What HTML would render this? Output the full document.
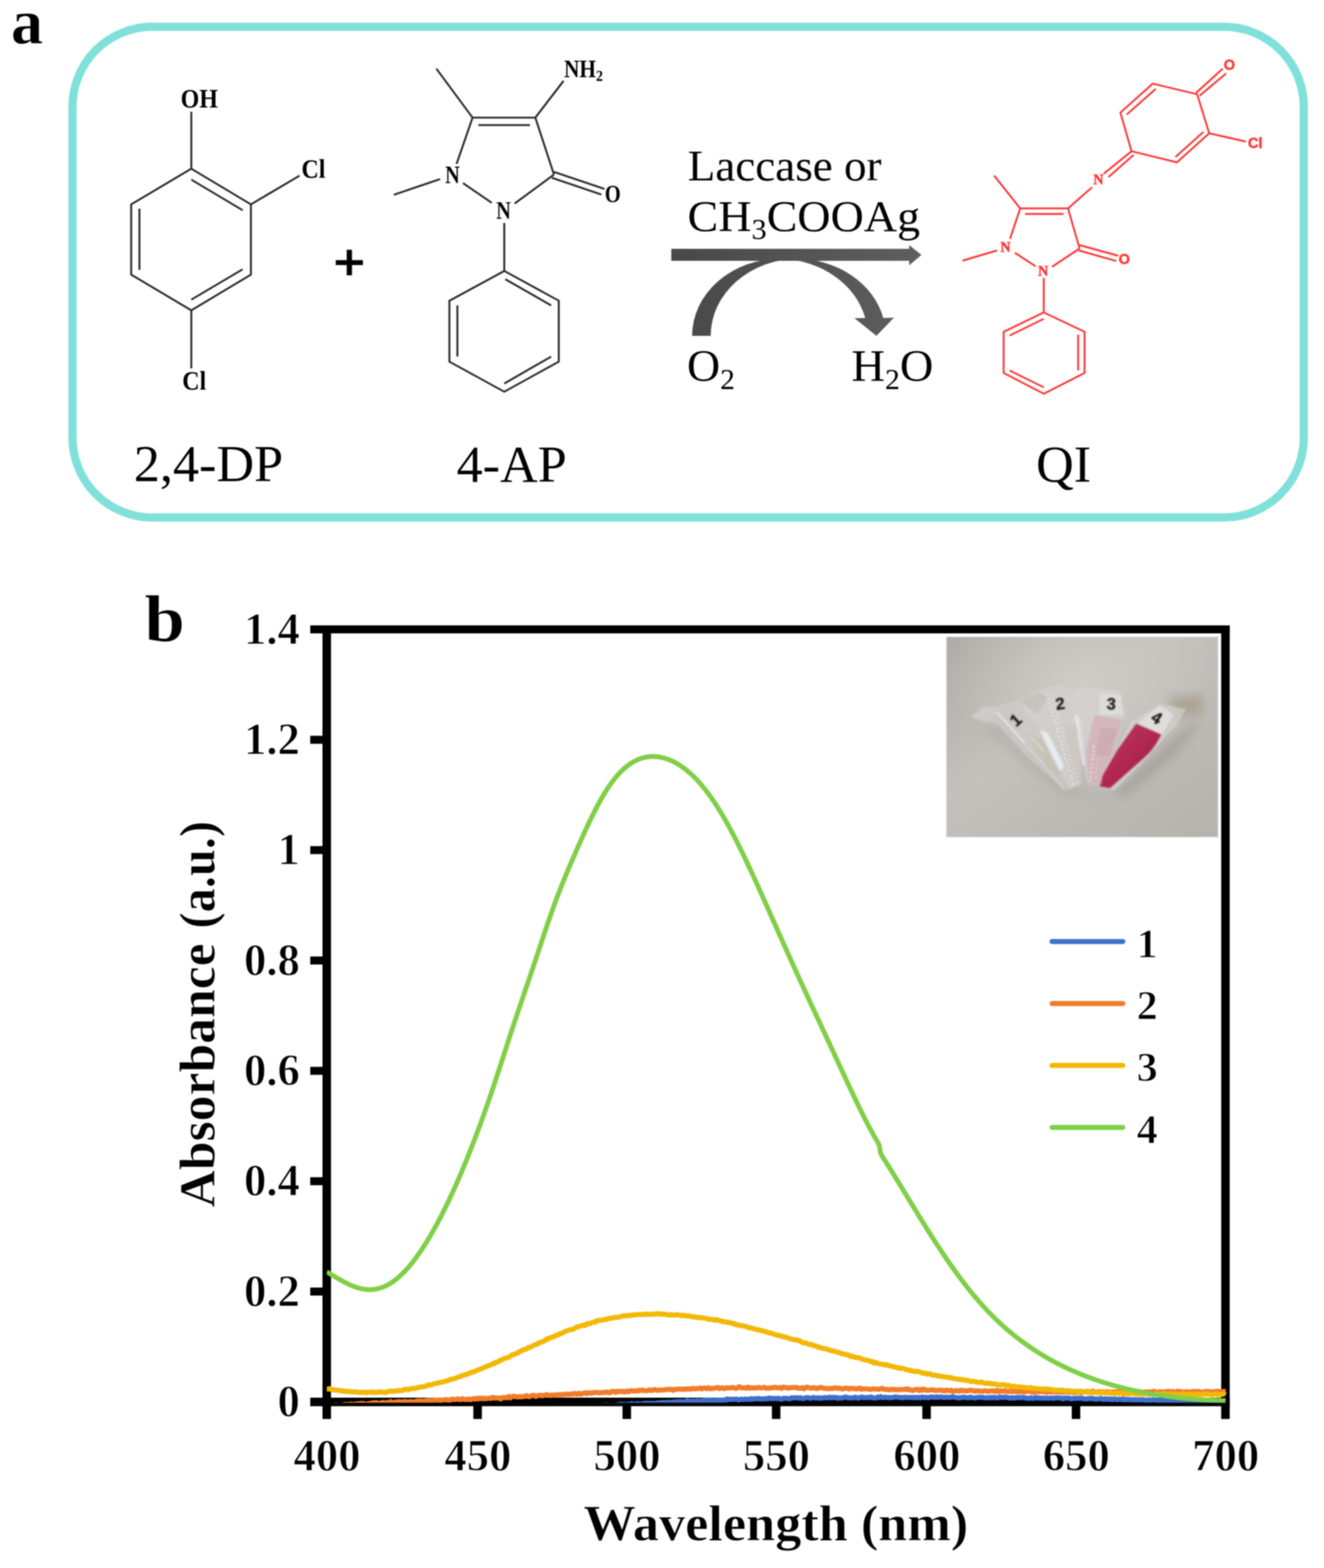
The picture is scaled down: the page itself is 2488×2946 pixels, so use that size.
<!DOCTYPE html>
<html lang="en">
<head>
<meta charset="utf-8">
<title>Figure: 2,4-DP + 4-AP reaction and absorbance spectra</title>
<style>
html,body{margin:0;padding:0;background:#fff;}
body{width:2488px;height:2946px;overflow:hidden;}
svg{display:block;}
.b{stroke:#2c2c2c;stroke-width:3.7;fill:none;stroke-linecap:butt;stroke-linejoin:miter;}
.r{stroke:#FF3636;stroke-width:3.5;fill:none;stroke-linecap:butt;stroke-linejoin:miter;}
text{white-space:pre;}
</style>
</head>
<body>
<svg width="2488" height="2946" viewBox="0 0 2488 2946">
<defs><filter id="soft" color-interpolation-filters="sRGB" x="0" y="0" width="100%" height="100%" filterUnits="userSpaceOnUse" primitiveUnits="userSpaceOnUse"><feGaussianBlur stdDeviation="0.85"/></filter></defs>
<rect width="2488" height="2946" fill="#ffffff"/>
<g filter="url(#soft)">
<rect width="2488" height="2946" fill="#ffffff"/>
<g id="panel-a">
<rect x="136.2" y="50.3" width="2313.8" height="922.0" rx="150" ry="150" fill="none" stroke="#7FE1D9" stroke-width="15.5"/>
<text x="20.5" y="81.5" font-family="'Liberation Serif','DejaVu Serif',serif" font-size="121" font-weight="bold" fill="#000" text-anchor="start" stroke="#fff" stroke-width="1.0">a</text>
<g class="mk">
<polygon points="359.5,317 471.5,384 471.5,516 359.5,583 246.5,516 246.5,384" class="b"/>
<line x1="359.5" y1="337.5" x2="456.0" y2="395.0" class="b"/>
<line x1="262.0" y1="392.0" x2="262.0" y2="507.0" class="b"/>
<line x1="359.5" y1="563.0" x2="456.0" y2="506.0" class="b"/>
<line x1="359.5" y1="317.0" x2="359.5" y2="210.0" class="b"/>
<line x1="471.5" y1="384.0" x2="563.0" y2="330.0" class="b"/>
<line x1="359.5" y1="583.0" x2="359.5" y2="692.0" class="b"/>
</g>
<text x="339.5" y="201.5" font-family="'Liberation Serif','DejaVu Serif',serif" font-size="50" font-weight="bold" fill="#000" text-anchor="start" textLength="70" lengthAdjust="spacingAndGlyphs">OH</text>
<text x="566.5" y="334.0" font-family="'Liberation Serif','DejaVu Serif',serif" font-size="50" font-weight="bold" fill="#000" text-anchor="start" textLength="45" lengthAdjust="spacingAndGlyphs">Cl</text>
<text x="342.5" y="731.5" font-family="'Liberation Serif','DejaVu Serif',serif" font-size="50" font-weight="bold" fill="#000" text-anchor="start" textLength="45" lengthAdjust="spacingAndGlyphs">Cl</text>
<text x="251.5" y="904.0" font-family="'Liberation Serif','DejaVu Serif',serif" font-size="98" font-weight="normal" fill="#000" text-anchor="start" >2,4-DP</text>
<text x="656.5" y="524.2" font-family="'Liberation Sans','DejaVu Sans',sans-serif" font-size="92" font-weight="normal" fill="#000" text-anchor="middle" stroke="#000" stroke-width="2.6" textLength="58" lengthAdjust="spacingAndGlyphs">+</text>
<g class="mk">
<line x1="820.0" y1="129.0" x2="888.0" y2="221.0" class="b"/>
<line x1="888.0" y1="221.0" x2="1006.0" y2="221.0" class="b"/>
<line x1="899.0" y1="235.0" x2="996.0" y2="235.0" class="b"/>
<line x1="1006.0" y1="221.0" x2="1059.0" y2="152.0" class="b"/>
<line x1="888.0" y1="221.0" x2="858.0" y2="308.0" class="b"/>
<line x1="827.0" y1="336.5" x2="740.0" y2="366.0" class="b"/>
<line x1="870.0" y1="344.0" x2="924.0" y2="381.0" class="b"/>
<line x1="967.0" y1="382.5" x2="1041.0" y2="328.0" class="b"/>
<line x1="1006.0" y1="221.0" x2="1041.0" y2="328.0" class="b"/>
<line x1="1041.0" y1="323.0" x2="1136.0" y2="355.0" class="b"/>
<line x1="1037.0" y1="334.0" x2="1130.0" y2="365.5" class="b"/>
<line x1="947.6" y1="419.0" x2="947.6" y2="509.0" class="b"/>
<polygon points="947.6,509 1050,565 1050,679.5 947.6,736 844.5,679.5 844.5,565" class="b"/>
<line x1="949.6" y1="524.6" x2="1035.7" y2="573.8" class="b"/>
<line x1="859.5" y1="573.8" x2="859.5" y2="670.0" class="b"/>
<line x1="947.6" y1="720.6" x2="1035.7" y2="670.0" class="b"/>
</g>
<text x="1060.0" y="145.0" font-family="'Liberation Serif','DejaVu Serif',serif" font-size="46" font-weight="bold" fill="#000" text-anchor="start" textLength="73" lengthAdjust="spacingAndGlyphs">NH<tspan dy="7" font-size="30">2</tspan></text>
<text x="836.5" y="343.5" font-family="'Liberation Serif','DejaVu Serif',serif" font-size="45.5" font-weight="bold" fill="#000" text-anchor="start" textLength="27.5" lengthAdjust="spacingAndGlyphs">N</text>
<text x="932.5" y="411.0" font-family="'Liberation Serif','DejaVu Serif',serif" font-size="45.5" font-weight="bold" fill="#000" text-anchor="start" textLength="27.5" lengthAdjust="spacingAndGlyphs">N</text>
<text x="1136.5" y="379.5" font-family="'Liberation Serif','DejaVu Serif',serif" font-size="45.5" font-weight="bold" fill="#000" text-anchor="start" textLength="30" lengthAdjust="spacingAndGlyphs">O</text>
<text x="858.0" y="904.5" font-family="'Liberation Serif','DejaVu Serif',serif" font-size="98" font-weight="normal" fill="#000" text-anchor="start" >4-AP</text>
<defs><linearGradient id="ag" x1="1260" y1="0" x2="1735" y2="0" gradientUnits="userSpaceOnUse"><stop offset="0" stop-color="#484848"/><stop offset="1" stop-color="#5f5f5f"/></linearGradient></defs>
<path d="M1300.6,631.0 A166,145 0 0 1 1466.6,486.0 L1501.5,486.0 A166,145 0 0 0 1335.5,631.0 Z" fill="url(#ag)"/>
<path d="M1460.5,486.0 L1494.5,486.0 A170,145 0 0 1 1659.9,597.5 L1680,596.8 L1647,631 L1605.5,597.7 L1625.9,597.5 A170,145 0 0 0 1460.5,486.0 Z" fill="url(#ag)"/>
<path d="M1261.5,467.5 H1708.5 V460.5 L1731.5,479 L1708.5,498.5 V490 H1261.5 Z" fill="url(#ag)"/>
<text x="1292.5" y="339.0" font-family="'Liberation Serif','DejaVu Serif',serif" font-size="82" font-weight="normal" fill="#000" text-anchor="start" textLength="364" lengthAdjust="spacingAndGlyphs">Laccase or</text>
<text x="1292.0" y="434.0" font-family="'Liberation Serif','DejaVu Serif',serif" font-size="82" font-weight="normal" fill="#000" text-anchor="start" textLength="437" lengthAdjust="spacingAndGlyphs">CH<tspan dy="15" font-size="54">3</tspan><tspan dy="-15">COOAg</tspan></text>
<text x="1291.0" y="716.0" font-family="'Liberation Serif','DejaVu Serif',serif" font-size="84" font-weight="normal" fill="#000" text-anchor="start" textLength="90" lengthAdjust="spacingAndGlyphs">O<tspan dy="15" font-size="54">2</tspan></text>
<text x="1600.0" y="716.0" font-family="'Liberation Serif','DejaVu Serif',serif" font-size="84" font-weight="normal" fill="#000" text-anchor="start" textLength="154" lengthAdjust="spacingAndGlyphs">H<tspan dy="15" font-size="54">2</tspan><tspan dy="-15">O</tspan></text>
<g class="mr">
<polygon points="2166.2,157.1 2249.6,177.1 2272.3,250.5 2211.5,305 2126.3,284.1 2105.4,211.5" class="r"/>
<line x1="2117.2" y1="215.2" x2="2171.6" y2="167.1" class="r"/>
<line x1="2261.4" y1="247.8" x2="2208.8" y2="295.0" class="r"/>
<line x1="2247.8" y1="174.4" x2="2297.7" y2="129.0" class="r"/>
<line x1="2254.1" y1="179.8" x2="2304.0" y2="138.0" class="r"/>
<line x1="2272.3" y1="250.5" x2="2341.2" y2="266.0" class="r"/>
<line x1="2126.3" y1="284.1" x2="2074.0" y2="326.3" class="r"/>
<line x1="2130.3" y1="291.0" x2="2083.0" y2="332.6" class="r"/>
<line x1="1868.1" y1="329.9" x2="1917.1" y2="391.6" class="r"/>
<line x1="1917.1" y1="391.6" x2="2006.9" y2="391.6" class="r"/>
<line x1="1926.2" y1="401.9" x2="1998.7" y2="401.9" class="r"/>
<line x1="1917.1" y1="391.6" x2="1898.0" y2="448.7" class="r"/>
<line x1="1873.6" y1="470.5" x2="1808.6" y2="489.7" class="r"/>
<line x1="1907.1" y1="475.0" x2="1946.1" y2="500.4" class="r"/>
<line x1="1977.0" y1="501.3" x2="2028.7" y2="466.8" class="r"/>
<line x1="2006.9" y1="391.6" x2="2028.7" y2="466.8" class="r"/>
<line x1="2028.7" y1="460.5" x2="2101.2" y2="480.5" class="r"/>
<line x1="2026.9" y1="470.5" x2="2097.6" y2="490.4" class="r"/>
<line x1="2006.9" y1="391.6" x2="2052.2" y2="351.7" class="r"/>
<line x1="1961.4" y1="522.0" x2="1961.4" y2="587.0" class="r"/>
<polygon points="1961.4,587 2038,623.4 2038,700.8 1961.4,739.7 1886,700.8 1886,623.4" class="r"/>
<line x1="1897.0" y1="630.5" x2="1961.4" y2="599.0" class="r"/>
<line x1="2026.0" y1="628.6" x2="2026.0" y2="696.0" class="r"/>
<line x1="1897.0" y1="696.0" x2="1961.4" y2="727.8" class="r"/>
</g>
<text x="1880.0" y="473.0" font-family="'Liberation Serif','DejaVu Serif',serif" font-size="26.5" font-weight="bold" fill="#FF3A3A" text-anchor="start" stroke="#FF3A3A" stroke-width="0.9">N</text>
<text x="1950.7" y="517.5" font-family="'Liberation Serif','DejaVu Serif',serif" font-size="26.5" font-weight="bold" fill="#FF3A3A" text-anchor="start" stroke="#FF3A3A" stroke-width="0.9">N</text>
<text x="2054.5" y="346.0" font-family="'Liberation Serif','DejaVu Serif',serif" font-size="26.5" font-weight="bold" fill="#FF3A3A" text-anchor="start" stroke="#FF3A3A" stroke-width="0.9">N</text>
<text x="2102.0" y="496.0" font-family="'Liberation Sans','DejaVu Sans',sans-serif" font-size="27.5" font-weight="bold" fill="#FF3A3A" text-anchor="start" stroke="#FF3A3A" stroke-width="0.9">O</text>
<text x="2299.5" y="131.0" font-family="'Liberation Sans','DejaVu Sans',sans-serif" font-size="27.5" font-weight="bold" fill="#FF3A3A" text-anchor="start" stroke="#FF3A3A" stroke-width="0.9">O</text>
<text x="2345.0" y="278.0" font-family="'Liberation Sans','DejaVu Sans',sans-serif" font-size="27.5" font-weight="bold" fill="#FF3A3A" text-anchor="start" stroke="#FF3A3A" stroke-width="0.9">Cl</text>
<text x="1947.0" y="904.5" font-family="'Liberation Serif','DejaVu Serif',serif" font-size="98" font-weight="normal" fill="#000" text-anchor="start" >QI</text>
</g>
<g id="panel-b">
<text x="271.5" y="1204.5" font-family="'Liberation Serif','DejaVu Serif',serif" font-size="124" font-weight="bold" fill="#000" text-anchor="start" textLength="76" lengthAdjust="spacingAndGlyphs" stroke="#fff" stroke-width="1.0">b</text>
<defs>
<clipPath id="phc"><rect x="1779" y="1197" width="509.5999999999999" height="375.29999999999995"/></clipPath>
<filter id="b1" color-interpolation-filters="sRGB" x="-20%" y="-20%" width="140%" height="140%"><feGaussianBlur stdDeviation="1.7"/></filter>
<filter id="b2" color-interpolation-filters="sRGB" x="-30%" y="-30%" width="160%" height="160%"><feGaussianBlur stdDeviation="9"/></filter>
<filter id="b3" color-interpolation-filters="sRGB" x="-20%" y="-20%" width="140%" height="140%"><feGaussianBlur stdDeviation="0.9"/></filter>
<filter id="b4" color-interpolation-filters="sRGB" x="-20%" y="-20%" width="140%" height="140%"><feGaussianBlur stdDeviation="1.2"/></filter>
<linearGradient id="pbg" x1="0" y1="0" x2="1" y2="1"><stop offset="0" stop-color="#afaba6"/><stop offset="0.4" stop-color="#c4c1bd"/><stop offset="1" stop-color="#b6b3ae"/></linearGradient>
<radialGradient id="pbg2" cx="0.5" cy="0.22" r="0.5"><stop offset="0" stop-color="#d4d1cd" stop-opacity="0.75"/><stop offset="1" stop-color="#d4d1cd" stop-opacity="0"/></radialGradient>
<linearGradient id="crim" x1="0" y1="0" x2="1" y2="1"><stop offset="0" stop-color="#c23a66"/><stop offset="0.55" stop-color="#ae2550"/><stop offset="1" stop-color="#8d1d3e"/></linearGradient>
</defs>
<g id="inset-photo" clip-path="url(#phc)">
<rect x="1779" y="1197" width="509.5999999999999" height="375.29999999999995" fill="url(#pbg)"/>
<rect x="1779" y="1197" width="509.5999999999999" height="375.29999999999995" fill="url(#pbg2)"/>
<g filter="url(#b2)">
<polygon points="2089.4,1492.0 2189.2,1399.7 2229.1,1364.8 2260.0,1354.8 2209.1,1419.6 2114.3,1499.5" fill="#9a958d" fill-opacity="0.55" />
<polygon points="1835.0,1364.8 1994.6,1494.5 2069.4,1499.5 2019.6,1479.5 1884.9,1364.8" fill="#aaa7a2" fill-opacity="0.45" />
<polygon points="2194.2,1309.9 2260.0,1304.9 2260.0,1342.3 2209.1,1349.8" fill="#9f927d" fill-opacity="0.6" />
</g>
<g filter="url(#b1)">
<polygon points="1825.0,1347.3 1844.9,1329.8 1872.4,1327.3 1914.8,1313.6 1954.7,1342.3 2019.6,1479.5 2002.1,1485.7 1927.3,1419.6 1873.6,1359.8 1849.9,1356.0" fill="#d0cecb" fill-opacity="0.6" />
<polygon points="1825.0,1347.3 1844.9,1329.8 1871.1,1327.8 1873.6,1338.6 1849.9,1356.0" fill="#cfcdca" fill-opacity="0.8" />
<polygon points="1927.3,1377.2 1959.7,1389.7 1994.6,1459.6 1969.7,1444.6" fill="#c6bba9" fill-opacity="0.55" />
<polyline points="1873.6,1338.6 1899.8,1367.3 1924.8,1395.9" fill="none" stroke="#f3efe6" stroke-width="2.6" stroke-opacity="0.95" stroke-linecap="round" stroke-linejoin="round" />
<polyline points="1927.3,1399.7 1959.7,1434.6 1999.6,1482.0" fill="none" stroke="#e2dfda" stroke-width="2.2" stroke-opacity="0.7" stroke-linecap="round" stroke-linejoin="round" />
<polyline points="1937.2,1384.7 1959.7,1409.7" fill="none" stroke="#efe9dc" stroke-width="3" stroke-opacity="0.6" stroke-linecap="round" stroke-linejoin="round" />
<polygon points="1912.3,1316.1 1949.7,1297.4 1992.1,1284.9 2024.5,1302.4 2032.0,1474.5 2009.6,1482.0 1959.7,1377.2" fill="#d4d2cf" fill-opacity="0.65" />
<polygon points="1914.8,1317.4 1949.7,1299.9 1969.7,1307.4 1949.7,1342.3" fill="#bdb9b4" fill-opacity="0.5" />
<polygon points="1953.4,1372.2 1969.7,1377.2 1999.6,1439.6 1992.1,1449.6" fill="#e9edf3" fill-opacity="0.9" />
<polygon points="2019.6,1342.3 2032.0,1349.8 2039.5,1434.6 2034.5,1439.6" fill="#eceef1" fill-opacity="0.85" />
<polygon points="1999.6,1359.8 2024.5,1364.8 2032.0,1464.5 2019.6,1472.0" fill="#cbc4bb" fill-opacity="0.5" />
<polygon points="2019.6,1291.2 2101.9,1297.4 2114.3,1342.3 2071.9,1474.5 2044.5,1474.5 2032.0,1409.7" fill="#d6d3d1" fill-opacity="0.7" />
<polygon points="2066.9,1302.4 2106.9,1304.9 2110.6,1343.6 2065.7,1342.3" fill="#e2e0de" fill-opacity="0.75" />
<polygon points="2057.0,1343.6 2109.3,1352.3 2071.9,1473.3 2045.7,1473.3 2040.8,1409.7" fill="#d3b3bc" fill-opacity="0.9" />
<polygon points="2069.4,1367.3 2099.4,1369.8 2084.4,1419.6 2059.5,1419.6" fill="#caa3af" fill-opacity="0.6" />
<polygon points="2126.8,1354.8 2179.2,1322.4 2229.1,1332.3 2209.1,1364.8 2094.4,1484.5 2066.9,1479.5 2069.4,1459.6" fill="#d4d1ce" fill-opacity="0.7" />
<polygon points="2138.0,1358.5 2179.2,1325.4 2205.4,1342.3 2182.9,1381.0" fill="#e4e2e0" fill-opacity="0.8" />
<polygon points="2134.8,1359.8 2182.2,1380.2 2165.5,1409.7 2085.7,1480.8 2066.9,1477.5 2071.9,1457.1 2099.4,1409.7" fill="url(#crim)" fill-opacity="1" />
<polyline points="2189.2,1379.7 2144.3,1434.6 2091.9,1484.5" fill="none" stroke="#d8cfcc" stroke-width="3" stroke-opacity="0.7" stroke-linecap="round" stroke-linejoin="round" />
</g>
<g filter="url(#b3)">
<circle cx="1966.8" cy="1304.5" r="1.5" fill="#ffffff" fill-opacity="0.95"/><circle cx="1969.3" cy="1312.5" r="1.5" fill="#ffffff" fill-opacity="0.95"/><circle cx="1972.9" cy="1321.1" r="1.5" fill="#ffffff" fill-opacity="0.95"/><circle cx="1974.0" cy="1329.5" r="1.5" fill="#ffffff" fill-opacity="0.95"/><circle cx="1976.2" cy="1337.2" r="1.5" fill="#ffffff" fill-opacity="0.95"/><circle cx="1978.1" cy="1344.6" r="1.5" fill="#ffffff" fill-opacity="0.95"/><circle cx="1982.1" cy="1352.9" r="1.5" fill="#ffffff" fill-opacity="0.95"/><circle cx="1984.4" cy="1360.3" r="1.5" fill="#ffffff" fill-opacity="0.95"/><circle cx="1986.1" cy="1369.4" r="1.5" fill="#ffffff" fill-opacity="0.95"/><circle cx="1988.7" cy="1376.1" r="1.5" fill="#ffffff" fill-opacity="0.95"/><circle cx="1990.6" cy="1385.1" r="1.5" fill="#ffffff" fill-opacity="0.95"/><circle cx="1994.2" cy="1392.9" r="1.5" fill="#ffffff" fill-opacity="0.95"/><circle cx="1996.6" cy="1400.1" r="1.5" fill="#ffffff" fill-opacity="0.95"/><circle cx="1997.1" cy="1408.0" r="1.5" fill="#ffffff" fill-opacity="0.95"/><circle cx="2000.1" cy="1417.3" r="1.5" fill="#ffffff" fill-opacity="0.95"/><circle cx="2002.0" cy="1424.8" r="1.5" fill="#ffffff" fill-opacity="0.95"/><circle cx="2004.4" cy="1432.0" r="1.5" fill="#ffffff" fill-opacity="0.95"/><circle cx="2007.4" cy="1440.7" r="1.5" fill="#ffffff" fill-opacity="0.95"/><circle cx="2009.3" cy="1448.1" r="1.5" fill="#ffffff" fill-opacity="0.95"/><circle cx="2012.7" cy="1457.0" r="1.5" fill="#ffffff" fill-opacity="0.95"/><circle cx="2014.4" cy="1463.1" r="1.5" fill="#ffffff" fill-opacity="0.95"/><circle cx="2016.8" cy="1472.5" r="1.5" fill="#ffffff" fill-opacity="0.95"/>
<circle cx="1976.2" cy="1306.7" r="1.3" fill="#ffffff" fill-opacity="0.85"/><circle cx="1978.4" cy="1315.5" r="1.3" fill="#ffffff" fill-opacity="0.85"/><circle cx="1980.8" cy="1324.7" r="1.3" fill="#ffffff" fill-opacity="0.85"/><circle cx="1983.0" cy="1332.4" r="1.3" fill="#ffffff" fill-opacity="0.85"/><circle cx="1986.5" cy="1341.5" r="1.3" fill="#ffffff" fill-opacity="0.85"/><circle cx="1987.8" cy="1349.6" r="1.3" fill="#ffffff" fill-opacity="0.85"/><circle cx="1990.5" cy="1357.9" r="1.3" fill="#ffffff" fill-opacity="0.85"/><circle cx="1994.8" cy="1367.3" r="1.3" fill="#ffffff" fill-opacity="0.85"/><circle cx="1996.8" cy="1375.2" r="1.3" fill="#ffffff" fill-opacity="0.85"/><circle cx="1999.4" cy="1383.6" r="1.3" fill="#ffffff" fill-opacity="0.85"/><circle cx="2001.4" cy="1393.2" r="1.3" fill="#ffffff" fill-opacity="0.85"/><circle cx="2004.0" cy="1402.1" r="1.3" fill="#ffffff" fill-opacity="0.85"/><circle cx="2006.5" cy="1409.5" r="1.3" fill="#ffffff" fill-opacity="0.85"/><circle cx="2009.9" cy="1419.3" r="1.3" fill="#ffffff" fill-opacity="0.85"/><circle cx="2011.5" cy="1427.8" r="1.3" fill="#ffffff" fill-opacity="0.85"/><circle cx="2014.4" cy="1434.9" r="1.3" fill="#ffffff" fill-opacity="0.85"/><circle cx="2017.5" cy="1444.1" r="1.3" fill="#ffffff" fill-opacity="0.85"/><circle cx="2019.4" cy="1452.5" r="1.3" fill="#ffffff" fill-opacity="0.85"/><circle cx="2021.2" cy="1460.5" r="1.3" fill="#ffffff" fill-opacity="0.85"/><circle cx="2024.7" cy="1469.3" r="1.3" fill="#ffffff" fill-opacity="0.85"/>
<circle cx="2054.8" cy="1402.2" r="1.5" fill="#ffffff" fill-opacity="0.9"/><circle cx="2054.9" cy="1410.8" r="1.5" fill="#ffffff" fill-opacity="0.9"/><circle cx="2054.7" cy="1419.0" r="1.5" fill="#ffffff" fill-opacity="0.9"/><circle cx="2053.2" cy="1425.7" r="1.5" fill="#ffffff" fill-opacity="0.9"/><circle cx="2052.0" cy="1435.6" r="1.5" fill="#ffffff" fill-opacity="0.9"/><circle cx="2050.4" cy="1442.6" r="1.5" fill="#ffffff" fill-opacity="0.9"/><circle cx="2050.6" cy="1451.5" r="1.5" fill="#ffffff" fill-opacity="0.9"/><circle cx="2049.6" cy="1459.7" r="1.5" fill="#ffffff" fill-opacity="0.9"/><circle cx="2047.5" cy="1466.5" r="1.5" fill="#ffffff" fill-opacity="0.9"/>
<circle cx="2063.8" cy="1419.1" r="1.2" fill="#fff4f4" fill-opacity="0.8"/><circle cx="2061.7" cy="1427.0" r="1.2" fill="#fff4f4" fill-opacity="0.8"/><circle cx="2061.4" cy="1435.8" r="1.2" fill="#fff4f4" fill-opacity="0.8"/><circle cx="2060.7" cy="1443.3" r="1.2" fill="#fff4f4" fill-opacity="0.8"/><circle cx="2059.4" cy="1450.8" r="1.2" fill="#fff4f4" fill-opacity="0.8"/><circle cx="2060.4" cy="1460.1" r="1.2" fill="#fff4f4" fill-opacity="0.8"/>
<circle cx="2077.7" cy="1439.2" r="1.1" fill="#f5c6d2" fill-opacity="0.8"/><circle cx="2074.1" cy="1447.5" r="1.1" fill="#f5c6d2" fill-opacity="0.8"/><circle cx="2072.3" cy="1455.9" r="1.1" fill="#f5c6d2" fill-opacity="0.8"/><circle cx="2070.2" cy="1464.4" r="1.1" fill="#f5c6d2" fill-opacity="0.8"/><circle cx="2070.4" cy="1470.9" r="1.1" fill="#f5c6d2" fill-opacity="0.8"/>
</g>
<text transform="translate(1908.6,1352.8) rotate(-42)" y="11" font-family="'Liberation Sans','DejaVu Sans',sans-serif" font-size="31" font-weight="bold" fill="#1c1c1c" text-anchor="middle" stroke="#1c1c1c" stroke-width="0.5" filter="url(#b4)">1</text>
<text transform="translate(1992.1,1321.9) rotate(-8)" y="11" font-family="'Liberation Sans','DejaVu Sans',sans-serif" font-size="31" font-weight="bold" fill="#1c1c1c" text-anchor="middle" stroke="#1c1c1c" stroke-width="0.5" filter="url(#b4)">2</text>
<text transform="translate(2088.1,1322.4) rotate(3)" y="11" font-family="'Liberation Sans','DejaVu Sans',sans-serif" font-size="31" font-weight="bold" fill="#1c1c1c" text-anchor="middle" stroke="#1c1c1c" stroke-width="0.5" filter="url(#b4)">3</text>
<text transform="translate(2173.7,1348.6) rotate(32)" y="11" font-family="'Liberation Sans','DejaVu Sans',sans-serif" font-size="31" font-weight="bold" fill="#1c1c1c" text-anchor="middle" stroke="#1c1c1c" stroke-width="0.5" filter="url(#b4)">4</text>
</g>
<rect x="1778.5" y="1196.5" width="510.5999999999999" height="376.29999999999995" fill="none" stroke="#dedede" stroke-width="1.5"/>
<g fill="#000">
<rect x="583" y="1175.0" width="1727.8000000000002" height="15"/>
<rect x="606.0" y="1175.0" width="16" height="1491.0"/>
<rect x="2294.8" y="1175.0" width="16" height="1491.0"/>
<rect x="583" y="2626.0" width="1727.8000000000002" height="16"/>
<rect x="583" y="2419.1" width="30" height="15"/>
<rect x="583" y="2211.8" width="30" height="15"/>
<rect x="583" y="2004.4" width="30" height="15"/>
<rect x="583" y="1797.1" width="30" height="15"/>
<rect x="583" y="1589.7" width="30" height="15"/>
<rect x="583" y="1382.4" width="30" height="15"/>
<rect x="889.5" y="2634.0" width="16" height="32.0"/>
<rect x="1169.8" y="2634.0" width="16" height="32.0"/>
<rect x="1450.5" y="2634.0" width="16" height="32.0"/>
<rect x="1733.2" y="2634.0" width="16" height="32.0"/>
<rect x="2014.0" y="2634.0" width="16" height="32.0"/>
</g>
<text x="563.5" y="2661.0" font-family="'Liberation Serif','DejaVu Serif',serif" font-size="84" font-weight="bold" fill="#000" text-anchor="end" stroke="#fff" stroke-width="1.5">0</text>
<text x="563.5" y="2453.6" font-family="'Liberation Serif','DejaVu Serif',serif" font-size="84" font-weight="bold" fill="#000" text-anchor="end" stroke="#fff" stroke-width="1.5">0.2</text>
<text x="563.5" y="2246.3" font-family="'Liberation Serif','DejaVu Serif',serif" font-size="84" font-weight="bold" fill="#000" text-anchor="end" stroke="#fff" stroke-width="1.5">0.4</text>
<text x="563.5" y="2038.9" font-family="'Liberation Serif','DejaVu Serif',serif" font-size="84" font-weight="bold" fill="#000" text-anchor="end" stroke="#fff" stroke-width="1.5">0.6</text>
<text x="563.5" y="1831.6" font-family="'Liberation Serif','DejaVu Serif',serif" font-size="84" font-weight="bold" fill="#000" text-anchor="end" stroke="#fff" stroke-width="1.5">0.8</text>
<text x="563.5" y="1624.2" font-family="'Liberation Serif','DejaVu Serif',serif" font-size="84" font-weight="bold" fill="#000" text-anchor="end" stroke="#fff" stroke-width="1.5">1</text>
<text x="563.5" y="1416.9" font-family="'Liberation Serif','DejaVu Serif',serif" font-size="84" font-weight="bold" fill="#000" text-anchor="end" stroke="#fff" stroke-width="1.5">1.2</text>
<text x="563.5" y="1209.5" font-family="'Liberation Serif','DejaVu Serif',serif" font-size="84" font-weight="bold" fill="#000" text-anchor="end" stroke="#fff" stroke-width="1.5">1.4</text>
<text x="614.5" y="2763.0" font-family="'Liberation Serif','DejaVu Serif',serif" font-size="84" font-weight="bold" fill="#000" text-anchor="middle" stroke="#fff" stroke-width="1.5">400</text>
<text x="898.0" y="2763.0" font-family="'Liberation Serif','DejaVu Serif',serif" font-size="84" font-weight="bold" fill="#000" text-anchor="middle" stroke="#fff" stroke-width="1.5">450</text>
<text x="1178.3" y="2763.0" font-family="'Liberation Serif','DejaVu Serif',serif" font-size="84" font-weight="bold" fill="#000" text-anchor="middle" stroke="#fff" stroke-width="1.5">500</text>
<text x="1459.0" y="2763.0" font-family="'Liberation Serif','DejaVu Serif',serif" font-size="84" font-weight="bold" fill="#000" text-anchor="middle" stroke="#fff" stroke-width="1.5">550</text>
<text x="1741.7" y="2763.0" font-family="'Liberation Serif','DejaVu Serif',serif" font-size="84" font-weight="bold" fill="#000" text-anchor="middle" stroke="#fff" stroke-width="1.5">600</text>
<text x="2022.5" y="2763.0" font-family="'Liberation Serif','DejaVu Serif',serif" font-size="84" font-weight="bold" fill="#000" text-anchor="middle" stroke="#fff" stroke-width="1.5">650</text>
<text x="2303.3" y="2763.0" font-family="'Liberation Serif','DejaVu Serif',serif" font-size="84" font-weight="bold" fill="#000" text-anchor="middle" stroke="#fff" stroke-width="1.5">700</text>
<text x="1096.5" y="2893.5" font-family="'Liberation Serif','DejaVu Serif',serif" font-size="96" font-weight="bold" fill="#000" text-anchor="start" textLength="723" lengthAdjust="spacingAndGlyphs" stroke="#fff" stroke-width="1.0">Wavelength (nm)</text>
<text transform="translate(403,2268.5) rotate(-90)" font-family="'Liberation Serif','DejaVu Serif',serif" font-size="96" font-weight="bold" fill="#000" stroke="#fff" stroke-width="1.0"><tspan textLength="496" lengthAdjust="spacingAndGlyphs">Absorbance</tspan><tspan x="524" textLength="202" lengthAdjust="spacingAndGlyphs">(a.u.)</tspan></text>
<defs><clipPath id="pc"><rect x="614.0" y="1182.5" width="1690.8000000000002" height="1453.0"/></clipPath></defs>
<g clip-path="url(#pc)" fill="none" stroke-linejoin="round" stroke-linecap="butt">
<path d="M614.0,2645.0 L617.0,2644.1 L620.0,2643.8 L623.0,2642.6 L626.0,2643.4 L629.0,2643.3 L632.0,2643.4 L635.0,2643.0 L638.0,2643.3 L641.0,2643.0 L644.0,2642.4 L647.0,2643.7 L650.0,2643.6 L653.0,2644.1 L656.0,2643.0 L659.0,2642.7 L662.0,2642.6 L665.0,2641.9 L668.0,2643.4 L671.0,2642.1 L674.0,2642.1 L677.0,2642.6 L680.0,2643.6 L683.0,2642.8 L686.0,2642.1 L689.0,2642.2 L692.0,2643.0 L695.0,2642.5 L698.0,2642.1 L701.0,2642.5 L704.0,2643.0 L707.0,2643.8 L710.0,2641.8 L713.0,2642.2 L716.0,2642.1 L719.0,2641.1 L722.0,2642.0 L725.0,2642.0 L728.0,2643.3 L731.0,2642.5 L734.0,2641.6 L737.0,2643.0 L740.0,2642.4 L743.0,2641.6 L746.0,2642.3 L749.0,2642.3 L752.0,2642.2 L755.0,2642.7 L758.0,2641.4 L761.0,2642.6 L764.0,2643.4 L767.0,2643.3 L770.0,2643.5 L773.0,2643.5 L776.0,2643.8 L779.0,2642.2 L782.0,2643.4 L785.0,2641.8 L788.0,2642.6 L791.0,2641.8 L794.0,2643.7 L797.0,2643.9 L800.0,2643.0 L803.0,2644.2 L806.0,2642.7 L809.0,2643.3 L812.0,2643.3 L815.0,2642.6 L818.0,2643.5 L821.0,2644.5 L824.0,2642.7 L827.0,2643.9 L830.0,2643.3 L833.0,2644.5 L836.0,2643.7 L839.0,2643.9 L842.0,2643.9 L845.0,2643.7 L848.0,2642.7 L851.0,2644.4 L854.0,2642.8 L857.0,2643.8 L860.0,2644.1 L863.0,2643.2 L866.0,2643.8 L869.0,2644.5 L872.0,2643.8 L875.0,2643.3 L878.0,2642.1 L881.0,2643.3 L884.0,2643.5 L887.0,2643.6 L890.0,2643.3 L893.0,2644.2 L896.0,2643.6 L899.0,2643.9 L902.0,2644.4 L905.0,2643.5 L908.0,2643.8 L911.0,2645.3 L914.0,2644.5 L917.0,2643.2 L920.0,2644.0 L923.0,2644.4 L926.0,2644.8 L929.0,2644.1 L932.0,2643.7 L935.0,2643.6 L938.0,2644.4 L941.0,2644.2 L944.0,2643.7 L947.0,2643.9 L950.0,2643.8 L953.0,2644.4 L956.0,2643.6 L959.0,2644.3 L962.0,2644.5 L965.0,2644.2 L968.0,2643.4 L971.0,2644.7 L974.0,2643.5 L977.0,2644.1 L980.0,2643.4 L983.0,2642.8 L986.0,2643.9 L989.0,2643.9 L992.0,2643.7 L995.0,2643.9 L998.0,2643.3 L1001.0,2643.2 L1004.0,2643.5 L1007.0,2644.7 L1010.0,2644.0 L1013.0,2643.2 L1016.0,2643.8 L1019.0,2643.1 L1022.0,2643.1 L1025.0,2643.8 L1028.0,2642.9 L1031.0,2642.2 L1034.0,2642.6 L1037.0,2643.1 L1040.0,2643.1 L1043.0,2643.7 L1046.0,2642.5 L1049.0,2643.3 L1052.0,2643.0 L1055.0,2642.6 L1058.0,2643.2 L1061.0,2642.9 L1064.0,2642.0 L1067.0,2643.1 L1070.0,2641.7 L1073.0,2642.3 L1076.0,2642.2 L1079.0,2642.4 L1082.0,2641.6 L1085.0,2642.0 L1088.0,2641.8 L1091.0,2642.4 L1094.0,2641.3 L1097.0,2641.7 L1100.0,2641.4 L1103.0,2640.7 L1106.0,2643.0 L1109.0,2641.2 L1112.0,2640.3 L1115.0,2641.9 L1118.0,2640.4 L1121.0,2641.1 L1124.0,2641.3 L1127.0,2640.3 L1130.0,2640.3 L1133.0,2640.1 L1136.0,2640.3 L1139.0,2639.3 L1142.0,2639.4 L1145.0,2639.9 L1148.0,2640.5 L1151.0,2640.2 L1154.0,2640.7 L1157.0,2639.9 L1160.0,2639.1 L1163.0,2639.2 L1166.0,2637.9 L1169.0,2638.4 L1172.0,2638.3 L1175.0,2638.9 L1178.0,2639.0 L1181.0,2638.1 L1184.0,2638.0 L1187.0,2637.2 L1190.0,2638.0 L1193.0,2638.0 L1196.0,2638.0 L1199.0,2637.1 L1202.0,2638.6 L1205.0,2638.0 L1208.0,2637.1 L1211.0,2636.7 L1214.0,2636.6 L1217.0,2636.8 L1220.0,2636.5 L1223.0,2636.7 L1226.0,2636.7 L1229.0,2636.9 L1232.0,2636.6 L1235.0,2635.7 L1238.0,2635.8 L1241.0,2635.2 L1244.0,2634.9 L1247.0,2636.3 L1250.0,2634.7 L1253.0,2636.0 L1256.0,2634.4 L1259.0,2634.6 L1262.0,2635.0 L1265.0,2634.2 L1268.0,2634.2 L1271.0,2633.7 L1274.0,2633.4 L1277.0,2633.4 L1280.0,2633.0 L1283.0,2634.2 L1286.0,2633.0 L1289.0,2634.0 L1292.0,2631.2 L1295.0,2632.7 L1298.0,2632.8 L1301.0,2632.2 L1304.0,2632.9 L1307.0,2632.5 L1310.0,2631.8 L1313.0,2632.1 L1316.0,2633.3 L1319.0,2631.7 L1322.0,2631.6 L1325.0,2631.0 L1328.0,2631.2 L1331.0,2630.2 L1334.0,2630.8 L1337.0,2632.2 L1340.0,2631.3 L1343.0,2630.9 L1346.0,2631.1 L1349.0,2631.4 L1352.0,2630.5 L1355.0,2631.3 L1358.0,2630.6 L1361.0,2630.0 L1364.0,2630.8 L1367.0,2628.2 L1370.0,2629.2 L1373.0,2629.6 L1376.0,2628.8 L1379.0,2629.2 L1382.0,2628.8 L1385.0,2628.7 L1388.0,2630.6 L1391.0,2629.3 L1394.0,2628.8 L1397.0,2629.6 L1400.0,2628.5 L1403.0,2629.1 L1406.0,2628.7 L1409.0,2629.4 L1412.0,2627.5 L1415.0,2628.8 L1418.0,2628.3 L1421.0,2627.5 L1424.0,2628.7 L1427.0,2627.5 L1430.0,2628.9 L1433.0,2628.2 L1436.0,2628.3 L1439.0,2627.8 L1442.0,2628.3 L1445.0,2626.6 L1448.0,2627.7 L1451.0,2627.2 L1454.0,2627.7 L1457.0,2627.4 L1460.0,2627.8 L1463.0,2626.9 L1466.0,2628.4 L1469.0,2628.7 L1472.0,2627.1 L1475.0,2627.2 L1478.0,2627.3 L1481.0,2627.8 L1484.0,2628.2 L1487.0,2626.3 L1490.0,2626.6 L1493.0,2626.3 L1496.0,2626.2 L1499.0,2625.9 L1502.0,2627.0 L1505.0,2626.1 L1508.0,2627.7 L1511.0,2627.3 L1514.0,2626.1 L1517.0,2626.0 L1520.0,2626.3 L1523.0,2627.4 L1526.0,2626.1 L1529.0,2625.6 L1532.0,2626.5 L1535.0,2626.7 L1538.0,2626.1 L1541.0,2627.4 L1544.0,2626.5 L1547.0,2626.6 L1550.0,2625.8 L1553.0,2626.3 L1556.0,2626.2 L1559.0,2624.9 L1562.0,2626.4 L1565.0,2625.2 L1568.0,2626.2 L1571.0,2625.3 L1574.0,2627.4 L1577.0,2626.3 L1580.0,2626.6 L1583.0,2626.7 L1586.0,2625.3 L1589.0,2624.7 L1592.0,2625.8 L1595.0,2626.6 L1598.0,2626.1 L1601.0,2626.5 L1604.0,2626.5 L1607.0,2625.1 L1610.0,2626.1 L1613.0,2627.1 L1616.0,2625.6 L1619.0,2624.7 L1622.0,2625.7 L1625.0,2625.6 L1628.0,2626.1 L1631.0,2625.3 L1634.0,2625.9 L1637.0,2624.5 L1640.0,2626.3 L1643.0,2626.7 L1646.0,2626.5 L1649.0,2624.8 L1652.0,2625.9 L1655.0,2623.9 L1658.0,2625.9 L1661.0,2625.6 L1664.0,2625.1 L1667.0,2625.9 L1670.0,2625.7 L1673.0,2626.2 L1676.0,2625.7 L1679.0,2625.7 L1682.0,2624.4 L1685.0,2624.9 L1688.0,2625.3 L1691.0,2625.7 L1694.0,2625.5 L1697.0,2626.4 L1700.0,2625.0 L1703.0,2625.4 L1706.0,2625.7 L1709.0,2625.4 L1712.0,2625.8 L1715.0,2625.2 L1718.0,2626.3 L1721.0,2625.3 L1724.0,2626.2 L1727.0,2625.5 L1730.0,2626.4 L1733.0,2624.6 L1736.0,2625.8 L1739.0,2625.2 L1742.0,2625.6 L1745.0,2626.2 L1748.0,2624.8 L1751.0,2624.7 L1754.0,2624.9 L1757.0,2625.6 L1760.0,2624.3 L1763.0,2625.5 L1766.0,2624.7 L1769.0,2624.8 L1772.0,2625.2 L1775.0,2625.7 L1778.0,2625.1 L1781.0,2625.2 L1784.0,2625.4 L1787.0,2625.3 L1790.0,2623.9 L1793.0,2625.2 L1796.0,2625.5 L1799.0,2626.1 L1802.0,2626.7 L1805.0,2625.9 L1808.0,2625.6 L1811.0,2624.9 L1814.0,2625.6 L1817.0,2626.0 L1820.0,2626.3 L1823.0,2625.0 L1826.0,2625.7 L1829.0,2626.1 L1832.0,2626.7 L1835.0,2625.8 L1838.0,2625.3 L1841.0,2625.2 L1844.0,2625.4 L1847.0,2625.3 L1850.0,2626.2 L1853.0,2626.3 L1856.0,2626.1 L1859.0,2626.4 L1862.0,2625.5 L1865.0,2626.0 L1868.0,2625.5 L1871.0,2625.8 L1874.0,2626.5 L1877.0,2625.8 L1880.0,2624.7 L1883.0,2625.7 L1886.0,2625.5 L1889.0,2625.0 L1892.0,2625.5 L1895.0,2626.5 L1898.0,2627.0 L1901.0,2625.7 L1904.0,2626.6 L1907.0,2626.8 L1910.0,2625.4 L1913.0,2626.1 L1916.0,2626.1 L1919.0,2626.3 L1922.0,2625.2 L1925.0,2626.0 L1928.0,2626.9 L1931.0,2627.0 L1934.0,2627.4 L1937.0,2626.1 L1940.0,2627.5 L1943.0,2626.8 L1946.0,2625.6 L1949.0,2626.9 L1952.0,2626.3 L1955.0,2626.9 L1958.0,2626.5 L1961.0,2627.3 L1964.0,2626.8 L1967.0,2626.5 L1970.0,2627.3 L1973.0,2626.9 L1976.0,2626.6 L1979.0,2627.6 L1982.0,2626.6 L1985.0,2626.5 L1988.0,2626.6 L1991.0,2626.1 L1994.0,2626.7 L1997.0,2628.2 L2000.0,2626.6 L2003.0,2627.2 L2006.0,2626.6 L2009.0,2626.9 L2012.0,2628.2 L2015.0,2627.9 L2018.0,2627.1 L2021.0,2627.5 L2024.0,2627.0 L2027.0,2627.1 L2030.0,2627.1 L2033.0,2627.2 L2036.0,2627.9 L2039.0,2628.2 L2042.0,2628.2 L2045.0,2627.8 L2048.0,2627.2 L2051.0,2628.0 L2054.0,2627.5 L2057.0,2628.7 L2060.0,2628.5 L2063.0,2628.7 L2066.0,2628.1 L2069.0,2627.3 L2072.0,2629.0 L2075.0,2629.3 L2078.0,2627.7 L2081.0,2628.7 L2084.0,2629.4 L2087.0,2628.1 L2090.0,2629.9 L2093.0,2628.7 L2096.0,2628.3 L2099.0,2629.9 L2102.0,2629.3 L2105.0,2628.8 L2108.0,2629.8 L2111.0,2628.2 L2114.0,2630.5 L2117.0,2629.0 L2120.0,2629.7 L2123.0,2629.4 L2126.0,2630.0 L2129.0,2630.3 L2132.0,2629.4 L2135.0,2630.4 L2138.0,2629.9 L2141.0,2629.7 L2144.0,2630.1 L2147.0,2629.7 L2150.0,2629.9 L2153.0,2631.0 L2156.0,2630.5 L2159.0,2631.3 L2162.0,2631.0 L2165.0,2630.2 L2168.0,2629.8 L2171.0,2630.6 L2174.0,2631.2 L2177.0,2631.2 L2180.0,2630.8 L2183.0,2632.0 L2186.0,2630.4 L2189.0,2630.8 L2192.0,2631.7 L2195.0,2633.1 L2198.0,2632.1 L2201.0,2631.4 L2204.0,2632.4 L2207.0,2632.6 L2210.0,2632.8 L2213.0,2632.1 L2216.0,2632.0 L2219.0,2632.6 L2222.0,2632.9 L2225.0,2633.7 L2228.0,2634.1 L2231.0,2632.6 L2234.0,2632.8 L2237.0,2633.2 L2240.0,2633.2 L2243.0,2633.7 L2246.0,2633.9 L2249.0,2633.8 L2252.0,2634.6 L2255.0,2633.8 L2258.0,2633.4 L2261.0,2633.2 L2264.0,2633.6 L2267.0,2633.8 L2270.0,2633.4 L2273.0,2635.0 L2276.0,2634.9 L2279.0,2634.6 L2282.0,2634.5 L2285.0,2634.2 L2288.0,2634.7 L2291.0,2636.5 L2294.0,2634.2 L2297.0,2635.7 L2300.0,2636.2 L2303.0,2636.0" stroke="#4070CC" stroke-width="9.5"/>
<path d="M614.0,2641.4 L617.0,2642.0 L620.0,2640.4 L623.0,2641.4 L626.0,2641.8 L629.0,2639.8 L632.0,2639.8 L635.0,2640.2 L638.0,2640.6 L641.0,2640.7 L644.0,2640.0 L647.0,2638.9 L650.0,2638.4 L653.0,2639.1 L656.0,2639.0 L659.0,2637.8 L662.0,2638.4 L665.0,2638.4 L668.0,2638.8 L671.0,2637.2 L674.0,2638.1 L677.0,2636.7 L680.0,2637.0 L683.0,2637.1 L686.0,2638.1 L689.0,2639.2 L692.0,2636.9 L695.0,2636.9 L698.0,2637.1 L701.0,2635.2 L704.0,2636.6 L707.0,2635.0 L710.0,2636.9 L713.0,2636.6 L716.0,2635.8 L719.0,2634.7 L722.0,2636.3 L725.0,2635.2 L728.0,2634.9 L731.0,2635.1 L734.0,2633.4 L737.0,2634.7 L740.0,2635.0 L743.0,2634.4 L746.0,2634.1 L749.0,2633.2 L752.0,2634.2 L755.0,2633.8 L758.0,2633.5 L761.0,2633.0 L764.0,2633.9 L767.0,2634.0 L770.0,2633.3 L773.0,2633.5 L776.0,2633.7 L779.0,2633.7 L782.0,2632.7 L785.0,2632.2 L788.0,2632.0 L791.0,2632.1 L794.0,2632.4 L797.0,2632.6 L800.0,2631.5 L803.0,2631.8 L806.0,2630.8 L809.0,2632.3 L812.0,2631.0 L815.0,2631.4 L818.0,2630.6 L821.0,2630.7 L824.0,2630.3 L827.0,2631.9 L830.0,2630.8 L833.0,2630.4 L836.0,2629.7 L839.0,2629.8 L842.0,2630.5 L845.0,2631.2 L848.0,2628.9 L851.0,2629.1 L854.0,2629.5 L857.0,2629.1 L860.0,2628.2 L863.0,2629.3 L866.0,2629.7 L869.0,2627.9 L872.0,2629.1 L875.0,2629.5 L878.0,2629.3 L881.0,2628.2 L884.0,2630.0 L887.0,2628.7 L890.0,2627.6 L893.0,2628.7 L896.0,2627.1 L899.0,2628.4 L902.0,2626.7 L905.0,2628.0 L908.0,2627.0 L911.0,2628.0 L914.0,2627.6 L917.0,2627.3 L920.0,2626.9 L923.0,2627.4 L926.0,2625.3 L929.0,2626.7 L932.0,2626.5 L935.0,2626.5 L938.0,2626.6 L941.0,2628.4 L944.0,2625.8 L947.0,2626.1 L950.0,2625.5 L953.0,2626.4 L956.0,2623.7 L959.0,2626.2 L962.0,2624.3 L965.0,2623.1 L968.0,2623.8 L971.0,2624.3 L974.0,2624.4 L977.0,2624.0 L980.0,2624.5 L983.0,2623.8 L986.0,2623.6 L989.0,2622.0 L992.0,2623.7 L995.0,2623.9 L998.0,2622.7 L1001.0,2621.6 L1004.0,2621.8 L1007.0,2623.7 L1010.0,2622.0 L1013.0,2621.8 L1016.0,2621.5 L1019.0,2622.4 L1022.0,2621.4 L1025.0,2621.0 L1028.0,2620.4 L1031.0,2621.3 L1034.0,2621.9 L1037.0,2620.9 L1040.0,2621.5 L1043.0,2620.8 L1046.0,2620.7 L1049.0,2620.5 L1052.0,2620.3 L1055.0,2620.8 L1058.0,2620.3 L1061.0,2619.4 L1064.0,2619.7 L1067.0,2619.4 L1070.0,2619.7 L1073.0,2619.3 L1076.0,2619.3 L1079.0,2617.8 L1082.0,2619.0 L1085.0,2619.5 L1088.0,2617.5 L1091.0,2619.4 L1094.0,2618.3 L1097.0,2617.8 L1100.0,2616.5 L1103.0,2618.4 L1106.0,2616.8 L1109.0,2617.0 L1112.0,2617.6 L1115.0,2616.3 L1118.0,2616.2 L1121.0,2615.9 L1124.0,2616.5 L1127.0,2616.9 L1130.0,2616.6 L1133.0,2616.4 L1136.0,2615.8 L1139.0,2616.0 L1142.0,2615.2 L1145.0,2617.0 L1148.0,2615.6 L1151.0,2613.9 L1154.0,2614.4 L1157.0,2616.1 L1160.0,2613.9 L1163.0,2614.4 L1166.0,2614.9 L1169.0,2613.7 L1172.0,2615.0 L1175.0,2615.3 L1178.0,2613.4 L1181.0,2614.7 L1184.0,2613.1 L1187.0,2612.9 L1190.0,2613.6 L1193.0,2613.5 L1196.0,2612.8 L1199.0,2613.7 L1202.0,2611.9 L1205.0,2612.2 L1208.0,2611.9 L1211.0,2613.1 L1214.0,2613.0 L1217.0,2612.8 L1220.0,2611.3 L1223.0,2612.2 L1226.0,2612.3 L1229.0,2610.7 L1232.0,2611.1 L1235.0,2612.0 L1238.0,2612.0 L1241.0,2611.5 L1244.0,2611.6 L1247.0,2611.4 L1250.0,2611.1 L1253.0,2610.8 L1256.0,2610.2 L1259.0,2610.5 L1262.0,2610.3 L1265.0,2612.1 L1268.0,2610.6 L1271.0,2610.3 L1274.0,2610.0 L1277.0,2610.0 L1280.0,2609.8 L1283.0,2610.3 L1286.0,2609.8 L1289.0,2610.3 L1292.0,2609.1 L1295.0,2609.8 L1298.0,2610.0 L1301.0,2608.5 L1304.0,2609.4 L1307.0,2609.3 L1310.0,2608.8 L1313.0,2608.7 L1316.0,2607.6 L1319.0,2609.6 L1322.0,2608.1 L1325.0,2607.8 L1328.0,2609.1 L1331.0,2607.3 L1334.0,2609.2 L1337.0,2608.7 L1340.0,2608.8 L1343.0,2608.2 L1346.0,2607.4 L1349.0,2606.8 L1352.0,2609.1 L1355.0,2607.7 L1358.0,2607.6 L1361.0,2609.1 L1364.0,2607.5 L1367.0,2607.7 L1370.0,2607.6 L1373.0,2607.7 L1376.0,2607.0 L1379.0,2607.3 L1382.0,2608.5 L1385.0,2608.1 L1388.0,2605.5 L1391.0,2606.2 L1394.0,2607.7 L1397.0,2607.4 L1400.0,2607.2 L1403.0,2608.2 L1406.0,2606.2 L1409.0,2608.2 L1412.0,2607.5 L1415.0,2607.7 L1418.0,2607.5 L1421.0,2607.9 L1424.0,2607.1 L1427.0,2606.9 L1430.0,2607.8 L1433.0,2607.4 L1436.0,2606.4 L1439.0,2608.2 L1442.0,2608.1 L1445.0,2608.3 L1448.0,2607.3 L1451.0,2607.5 L1454.0,2607.0 L1457.0,2606.6 L1460.0,2607.3 L1463.0,2607.4 L1466.0,2606.8 L1469.0,2608.6 L1472.0,2606.2 L1475.0,2606.7 L1478.0,2606.9 L1481.0,2608.2 L1484.0,2607.2 L1487.0,2607.2 L1490.0,2606.8 L1493.0,2606.9 L1496.0,2606.5 L1499.0,2608.2 L1502.0,2607.9 L1505.0,2608.2 L1508.0,2607.1 L1511.0,2609.3 L1514.0,2606.9 L1517.0,2606.2 L1520.0,2607.4 L1523.0,2607.8 L1526.0,2608.2 L1529.0,2607.0 L1532.0,2608.2 L1535.0,2609.0 L1538.0,2607.3 L1541.0,2607.4 L1544.0,2606.7 L1547.0,2608.1 L1550.0,2608.6 L1553.0,2608.6 L1556.0,2608.7 L1559.0,2609.1 L1562.0,2608.3 L1565.0,2608.9 L1568.0,2607.6 L1571.0,2607.8 L1574.0,2608.5 L1577.0,2607.8 L1580.0,2608.9 L1583.0,2609.5 L1586.0,2608.8 L1589.0,2608.1 L1592.0,2608.1 L1595.0,2609.7 L1598.0,2608.2 L1601.0,2608.9 L1604.0,2608.7 L1607.0,2609.0 L1610.0,2609.7 L1613.0,2608.7 L1616.0,2608.1 L1619.0,2610.2 L1622.0,2609.4 L1625.0,2609.8 L1628.0,2609.3 L1631.0,2609.9 L1634.0,2610.3 L1637.0,2610.4 L1640.0,2609.4 L1643.0,2609.4 L1646.0,2609.9 L1649.0,2609.9 L1652.0,2610.2 L1655.0,2609.3 L1658.0,2608.3 L1661.0,2610.3 L1664.0,2610.6 L1667.0,2610.5 L1670.0,2611.3 L1673.0,2610.8 L1676.0,2610.0 L1679.0,2611.0 L1682.0,2610.3 L1685.0,2611.3 L1688.0,2610.7 L1691.0,2610.9 L1694.0,2610.8 L1697.0,2610.7 L1700.0,2609.7 L1703.0,2610.9 L1706.0,2609.3 L1709.0,2611.3 L1712.0,2611.7 L1715.0,2612.5 L1718.0,2611.4 L1721.0,2610.7 L1724.0,2610.2 L1727.0,2612.7 L1730.0,2610.4 L1733.0,2612.1 L1736.0,2609.9 L1739.0,2611.5 L1742.0,2612.1 L1745.0,2611.9 L1748.0,2611.7 L1751.0,2611.2 L1754.0,2611.2 L1757.0,2612.6 L1760.0,2612.3 L1763.0,2611.9 L1766.0,2612.3 L1769.0,2611.5 L1772.0,2612.9 L1775.0,2613.2 L1778.0,2611.8 L1781.0,2612.5 L1784.0,2613.2 L1787.0,2612.0 L1790.0,2614.0 L1793.0,2613.7 L1796.0,2612.5 L1799.0,2613.4 L1802.0,2613.9 L1805.0,2611.9 L1808.0,2613.3 L1811.0,2612.8 L1814.0,2612.8 L1817.0,2613.5 L1820.0,2612.7 L1823.0,2612.1 L1826.0,2612.2 L1829.0,2613.2 L1832.0,2613.7 L1835.0,2613.3 L1838.0,2613.2 L1841.0,2613.4 L1844.0,2614.3 L1847.0,2613.9 L1850.0,2613.0 L1853.0,2613.4 L1856.0,2614.5 L1859.0,2613.3 L1862.0,2613.4 L1865.0,2613.7 L1868.0,2613.0 L1871.0,2614.5 L1874.0,2612.3 L1877.0,2614.9 L1880.0,2613.6 L1883.0,2613.1 L1886.0,2614.2 L1889.0,2612.9 L1892.0,2614.5 L1895.0,2614.7 L1898.0,2613.8 L1901.0,2613.9 L1904.0,2614.9 L1907.0,2613.8 L1910.0,2614.3 L1913.0,2614.6 L1916.0,2615.5 L1919.0,2614.1 L1922.0,2614.5 L1925.0,2615.3 L1928.0,2612.7 L1931.0,2614.4 L1934.0,2613.2 L1937.0,2613.3 L1940.0,2616.0 L1943.0,2614.8 L1946.0,2615.7 L1949.0,2614.5 L1952.0,2615.1 L1955.0,2614.5 L1958.0,2614.4 L1961.0,2614.8 L1964.0,2614.9 L1967.0,2615.9 L1970.0,2614.8 L1973.0,2615.2 L1976.0,2614.8 L1979.0,2615.1 L1982.0,2614.1 L1985.0,2615.8 L1988.0,2614.7 L1991.0,2615.1 L1994.0,2614.9 L1997.0,2615.8 L2000.0,2615.5 L2003.0,2615.1 L2006.0,2615.3 L2009.0,2615.4 L2012.0,2615.7 L2015.0,2615.5 L2018.0,2616.1 L2021.0,2616.4 L2024.0,2615.7 L2027.0,2614.3 L2030.0,2616.5 L2033.0,2616.8 L2036.0,2615.0 L2039.0,2615.0 L2042.0,2613.9 L2045.0,2615.9 L2048.0,2614.6 L2051.0,2616.6 L2054.0,2613.6 L2057.0,2615.4 L2060.0,2615.9 L2063.0,2615.1 L2066.0,2614.8 L2069.0,2615.6 L2072.0,2615.0 L2075.0,2615.2 L2078.0,2615.4 L2081.0,2615.0 L2084.0,2615.3 L2087.0,2616.0 L2090.0,2615.2 L2093.0,2615.6 L2096.0,2614.9 L2099.0,2616.1 L2102.0,2614.6 L2105.0,2616.1 L2108.0,2613.3 L2111.0,2614.8 L2114.0,2614.3 L2117.0,2616.2 L2120.0,2615.6 L2123.0,2614.5 L2126.0,2615.0 L2129.0,2616.4 L2132.0,2615.4 L2135.0,2615.8 L2138.0,2614.4 L2141.0,2614.4 L2144.0,2615.8 L2147.0,2617.0 L2150.0,2615.0 L2153.0,2615.8 L2156.0,2614.7 L2159.0,2616.2 L2162.0,2615.0 L2165.0,2615.0 L2168.0,2614.0 L2171.0,2615.0 L2174.0,2615.5 L2177.0,2616.3 L2180.0,2614.5 L2183.0,2616.0 L2186.0,2615.0 L2189.0,2615.1 L2192.0,2614.6 L2195.0,2614.0 L2198.0,2614.4 L2201.0,2616.3 L2204.0,2614.3 L2207.0,2614.9 L2210.0,2615.9 L2213.0,2613.6 L2216.0,2615.4 L2219.0,2614.7 L2222.0,2615.2 L2225.0,2615.7 L2228.0,2614.9 L2231.0,2614.9 L2234.0,2615.5 L2237.0,2615.4 L2240.0,2614.4 L2243.0,2614.8 L2246.0,2614.0 L2249.0,2615.8 L2252.0,2614.0 L2255.0,2615.0 L2258.0,2616.0 L2261.0,2615.3 L2264.0,2614.5 L2267.0,2614.2 L2270.0,2614.3 L2273.0,2615.3 L2276.0,2614.9 L2279.0,2614.6 L2282.0,2616.4 L2285.0,2614.0 L2288.0,2614.2 L2291.0,2614.2 L2294.0,2614.6 L2297.0,2614.7 L2300.0,2614.2 L2303.0,2614.9" stroke="#F07D2A" stroke-width="9.5"/>
<path d="M614.0,2609.6 L617.0,2609.7 L620.0,2609.1 L623.0,2611.2 L626.0,2610.8 L629.0,2611.4 L632.0,2612.0 L635.0,2611.9 L638.0,2612.4 L641.0,2613.2 L644.0,2613.3 L647.0,2614.0 L650.0,2613.7 L653.0,2614.3 L656.0,2614.1 L659.0,2614.7 L662.0,2615.2 L665.0,2615.1 L668.0,2614.7 L671.0,2615.5 L674.0,2615.8 L677.0,2616.4 L680.0,2615.9 L683.0,2615.7 L686.0,2615.4 L689.0,2617.0 L692.0,2615.6 L695.0,2615.5 L698.0,2615.9 L701.0,2615.1 L704.0,2616.4 L707.0,2615.9 L710.0,2616.0 L713.0,2615.1 L716.0,2615.2 L719.0,2615.7 L722.0,2615.6 L725.0,2616.4 L728.0,2615.3 L731.0,2613.5 L734.0,2614.3 L737.0,2613.8 L740.0,2614.2 L743.0,2613.3 L746.0,2613.3 L749.0,2612.6 L752.0,2612.7 L755.0,2612.7 L758.0,2611.3 L761.0,2610.1 L764.0,2610.2 L767.0,2611.1 L770.0,2609.9 L773.0,2609.2 L776.0,2608.3 L779.0,2608.8 L782.0,2607.9 L785.0,2607.2 L788.0,2606.4 L791.0,2606.0 L794.0,2605.3 L797.0,2605.1 L800.0,2604.8 L803.0,2602.5 L806.0,2602.1 L809.0,2602.1 L812.0,2601.5 L815.0,2599.9 L818.0,2599.6 L821.0,2599.0 L824.0,2598.2 L827.0,2597.4 L830.0,2596.8 L833.0,2596.4 L836.0,2595.5 L839.0,2594.6 L842.0,2593.5 L845.0,2592.1 L848.0,2591.3 L851.0,2591.0 L854.0,2589.8 L857.0,2589.2 L860.0,2587.9 L863.0,2586.8 L866.0,2586.0 L869.0,2584.0 L872.0,2583.6 L875.0,2582.4 L878.0,2582.0 L881.0,2580.2 L884.0,2579.5 L887.0,2578.1 L890.0,2577.4 L893.0,2576.4 L896.0,2574.7 L899.0,2573.7 L902.0,2572.6 L905.0,2571.6 L908.0,2569.9 L911.0,2568.8 L914.0,2567.4 L917.0,2565.8 L920.0,2565.1 L923.0,2564.0 L926.0,2562.1 L929.0,2562.0 L932.0,2559.5 L935.0,2558.9 L938.0,2557.4 L941.0,2555.1 L944.0,2554.6 L947.0,2552.4 L950.0,2551.8 L953.0,2550.9 L956.0,2550.1 L959.0,2548.2 L962.0,2545.7 L965.0,2544.9 L968.0,2544.4 L971.0,2542.4 L974.0,2541.8 L977.0,2539.2 L980.0,2537.9 L983.0,2536.1 L986.0,2535.3 L989.0,2534.7 L992.0,2532.2 L995.0,2531.7 L998.0,2530.2 L1001.0,2529.0 L1004.0,2527.1 L1007.0,2525.9 L1010.0,2525.6 L1013.0,2522.6 L1016.0,2522.2 L1019.0,2521.3 L1022.0,2519.4 L1025.0,2518.7 L1028.0,2515.1 L1031.0,2515.1 L1034.0,2513.4 L1037.0,2512.5 L1040.0,2511.3 L1043.0,2510.4 L1046.0,2508.4 L1049.0,2508.1 L1052.0,2505.6 L1055.0,2505.7 L1058.0,2503.9 L1061.0,2501.9 L1064.0,2500.7 L1067.0,2499.6 L1070.0,2498.8 L1073.0,2498.2 L1076.0,2497.7 L1079.0,2496.4 L1082.0,2494.2 L1085.0,2492.7 L1088.0,2492.6 L1091.0,2491.1 L1094.0,2490.7 L1097.0,2489.4 L1100.0,2490.1 L1103.0,2487.0 L1106.0,2487.1 L1109.0,2487.0 L1112.0,2485.0 L1115.0,2483.9 L1118.0,2484.4 L1121.0,2481.7 L1124.0,2481.1 L1127.0,2480.6 L1130.0,2480.7 L1133.0,2480.1 L1136.0,2479.0 L1139.0,2479.5 L1142.0,2477.7 L1145.0,2477.2 L1148.0,2476.4 L1151.0,2476.6 L1154.0,2475.5 L1157.0,2474.8 L1160.0,2475.3 L1163.0,2474.7 L1166.0,2474.1 L1169.0,2472.5 L1172.0,2472.2 L1175.0,2472.2 L1178.0,2471.9 L1181.0,2471.4 L1184.0,2471.2 L1187.0,2471.4 L1190.0,2470.3 L1193.0,2470.6 L1196.0,2470.1 L1199.0,2469.8 L1202.0,2469.7 L1205.0,2470.1 L1208.0,2469.7 L1211.0,2469.0 L1214.0,2469.4 L1217.0,2469.2 L1220.0,2469.3 L1223.0,2468.9 L1226.0,2469.5 L1229.0,2469.2 L1232.0,2468.4 L1235.0,2468.3 L1238.0,2468.3 L1241.0,2469.3 L1244.0,2468.8 L1247.0,2469.0 L1250.0,2469.3 L1253.0,2470.1 L1256.0,2470.7 L1259.0,2469.7 L1262.0,2470.9 L1265.0,2470.3 L1268.0,2470.9 L1271.0,2470.4 L1274.0,2470.1 L1277.0,2471.2 L1280.0,2471.9 L1283.0,2470.7 L1286.0,2471.8 L1289.0,2472.2 L1292.0,2472.7 L1295.0,2472.2 L1298.0,2472.8 L1301.0,2474.0 L1304.0,2474.8 L1307.0,2474.3 L1310.0,2475.2 L1313.0,2475.2 L1316.0,2475.7 L1319.0,2475.8 L1322.0,2476.3 L1325.0,2476.6 L1328.0,2477.4 L1331.0,2478.4 L1334.0,2478.5 L1337.0,2479.2 L1340.0,2479.1 L1343.0,2480.4 L1346.0,2479.0 L1349.0,2480.4 L1352.0,2481.5 L1355.0,2481.4 L1358.0,2483.2 L1361.0,2483.6 L1364.0,2483.6 L1367.0,2484.8 L1370.0,2484.6 L1373.0,2485.6 L1376.0,2486.5 L1379.0,2486.5 L1382.0,2488.5 L1385.0,2488.4 L1388.0,2489.9 L1391.0,2490.0 L1394.0,2491.0 L1397.0,2491.1 L1400.0,2492.1 L1403.0,2492.8 L1406.0,2493.8 L1409.0,2495.1 L1412.0,2494.9 L1415.0,2495.9 L1418.0,2496.9 L1421.0,2497.9 L1424.0,2498.2 L1427.0,2498.9 L1430.0,2499.6 L1433.0,2500.6 L1436.0,2501.6 L1439.0,2501.9 L1442.0,2502.9 L1445.0,2504.3 L1448.0,2504.7 L1451.0,2505.2 L1454.0,2506.7 L1457.0,2507.5 L1460.0,2508.3 L1463.0,2509.2 L1466.0,2509.5 L1469.0,2510.6 L1472.0,2511.5 L1475.0,2512.3 L1478.0,2512.2 L1481.0,2513.9 L1484.0,2515.0 L1487.0,2515.9 L1490.0,2516.4 L1493.0,2517.4 L1496.0,2517.3 L1499.0,2518.4 L1502.0,2518.5 L1505.0,2520.7 L1508.0,2522.5 L1511.0,2523.5 L1514.0,2522.9 L1517.0,2524.7 L1520.0,2525.8 L1523.0,2525.9 L1526.0,2526.0 L1529.0,2528.5 L1532.0,2528.5 L1535.0,2529.3 L1538.0,2531.3 L1541.0,2531.5 L1544.0,2532.6 L1547.0,2533.8 L1550.0,2533.8 L1553.0,2534.2 L1556.0,2536.0 L1559.0,2536.4 L1562.0,2537.7 L1565.0,2538.3 L1568.0,2538.6 L1571.0,2539.9 L1574.0,2540.5 L1577.0,2541.4 L1580.0,2542.4 L1583.0,2543.4 L1586.0,2544.2 L1589.0,2544.2 L1592.0,2546.0 L1595.0,2545.8 L1598.0,2548.5 L1601.0,2547.8 L1604.0,2549.0 L1607.0,2550.5 L1610.0,2550.5 L1613.0,2550.8 L1616.0,2551.5 L1619.0,2553.2 L1622.0,2554.0 L1625.0,2555.0 L1628.0,2555.5 L1631.0,2555.9 L1634.0,2557.2 L1637.0,2558.4 L1640.0,2558.1 L1643.0,2561.0 L1646.0,2559.8 L1649.0,2561.3 L1652.0,2562.4 L1655.0,2562.7 L1658.0,2563.1 L1661.0,2564.0 L1664.0,2565.0 L1667.0,2563.8 L1670.0,2566.0 L1673.0,2566.3 L1676.0,2566.8 L1679.0,2567.9 L1682.0,2568.6 L1685.0,2569.5 L1688.0,2569.6 L1691.0,2571.1 L1694.0,2570.2 L1697.0,2571.4 L1700.0,2571.9 L1703.0,2573.2 L1706.0,2573.6 L1709.0,2574.7 L1712.0,2574.7 L1715.0,2576.3 L1718.0,2576.7 L1721.0,2576.6 L1724.0,2576.7 L1727.0,2577.5 L1730.0,2577.9 L1733.0,2579.9 L1736.0,2580.2 L1739.0,2579.8 L1742.0,2582.0 L1745.0,2581.4 L1748.0,2581.0 L1751.0,2583.2 L1754.0,2583.9 L1757.0,2583.8 L1760.0,2583.9 L1763.0,2585.5 L1766.0,2585.1 L1769.0,2585.9 L1772.0,2586.7 L1775.0,2587.1 L1778.0,2587.2 L1781.0,2587.5 L1784.0,2588.8 L1787.0,2587.9 L1790.0,2589.6 L1793.0,2590.1 L1796.0,2590.7 L1799.0,2590.7 L1802.0,2591.5 L1805.0,2592.2 L1808.0,2591.8 L1811.0,2592.8 L1814.0,2593.4 L1817.0,2593.0 L1820.0,2593.6 L1823.0,2595.3 L1826.0,2595.5 L1829.0,2595.0 L1832.0,2596.2 L1835.0,2596.4 L1838.0,2597.3 L1841.0,2597.6 L1844.0,2596.2 L1847.0,2597.7 L1850.0,2598.9 L1853.0,2599.4 L1856.0,2598.7 L1859.0,2598.8 L1862.0,2599.9 L1865.0,2599.8 L1868.0,2600.5 L1871.0,2600.3 L1874.0,2601.6 L1877.0,2601.9 L1880.0,2602.2 L1883.0,2601.7 L1886.0,2601.8 L1889.0,2602.3 L1892.0,2603.5 L1895.0,2602.7 L1898.0,2604.3 L1901.0,2605.1 L1904.0,2604.3 L1907.0,2604.8 L1910.0,2605.7 L1913.0,2606.0 L1916.0,2605.5 L1919.0,2606.0 L1922.0,2606.5 L1925.0,2606.6 L1928.0,2607.3 L1931.0,2607.4 L1934.0,2608.2 L1937.0,2606.9 L1940.0,2608.7 L1943.0,2608.7 L1946.0,2608.5 L1949.0,2609.1 L1952.0,2609.6 L1955.0,2609.5 L1958.0,2609.5 L1961.0,2610.0 L1964.0,2609.8 L1967.0,2609.7 L1970.0,2610.1 L1973.0,2610.4 L1976.0,2611.1 L1979.0,2611.6 L1982.0,2611.6 L1985.0,2612.4 L1988.0,2611.9 L1991.0,2611.8 L1994.0,2611.9 L1997.0,2612.1 L2000.0,2612.6 L2003.0,2613.6 L2006.0,2612.4 L2009.0,2613.6 L2012.0,2613.5 L2015.0,2614.1 L2018.0,2613.6 L2021.0,2614.4 L2024.0,2613.9 L2027.0,2614.7 L2030.0,2613.6 L2033.0,2614.9 L2036.0,2615.2 L2039.0,2614.2 L2042.0,2615.6 L2045.0,2614.8 L2048.0,2616.0 L2051.0,2615.6 L2054.0,2616.1 L2057.0,2616.1 L2060.0,2615.4 L2063.0,2616.9 L2066.0,2616.9 L2069.0,2615.9 L2072.0,2616.8 L2075.0,2616.9 L2078.0,2616.5 L2081.0,2616.4 L2084.0,2617.7 L2087.0,2617.0 L2090.0,2617.7 L2093.0,2618.3 L2096.0,2617.7 L2099.0,2617.1 L2102.0,2618.2 L2105.0,2617.1 L2108.0,2617.4 L2111.0,2619.4 L2114.0,2617.7 L2117.0,2618.3 L2120.0,2617.7 L2123.0,2618.2 L2126.0,2618.5 L2129.0,2617.1 L2132.0,2618.2 L2135.0,2618.9 L2138.0,2619.1 L2141.0,2618.9 L2144.0,2618.3 L2147.0,2619.1 L2150.0,2618.7 L2153.0,2618.6 L2156.0,2619.1 L2159.0,2620.3 L2162.0,2618.7 L2165.0,2619.7 L2168.0,2619.4 L2171.0,2618.6 L2174.0,2618.9 L2177.0,2619.3 L2180.0,2619.2 L2183.0,2619.6 L2186.0,2619.0 L2189.0,2619.1 L2192.0,2620.1 L2195.0,2619.6 L2198.0,2619.2 L2201.0,2619.7 L2204.0,2620.6 L2207.0,2619.5 L2210.0,2619.0 L2213.0,2620.3 L2216.0,2620.8 L2219.0,2620.5 L2222.0,2619.2 L2225.0,2618.8 L2228.0,2620.5 L2231.0,2619.8 L2234.0,2620.1 L2237.0,2619.8 L2240.0,2620.8 L2243.0,2620.0 L2246.0,2619.8 L2249.0,2620.0 L2252.0,2619.3 L2255.0,2620.0 L2258.0,2619.9 L2261.0,2618.9 L2264.0,2619.4 L2267.0,2619.3 L2270.0,2619.1 L2273.0,2620.1 L2276.0,2620.5 L2279.0,2620.1 L2282.0,2619.1 L2285.0,2619.0 L2288.0,2620.2 L2291.0,2619.7 L2294.0,2619.8 L2297.0,2619.2 L2300.0,2618.8 L2303.0,2620.9" stroke="#F2B807" stroke-width="9.5"/>
<path d="M614.0,2389.6 L616.0,2390.8 L618.0,2392.0 L620.0,2393.2 L622.0,2394.4 L624.0,2395.6 L626.0,2396.8 L628.0,2398.0 L630.0,2399.2 L632.0,2400.3 L634.0,2401.5 L636.0,2402.7 L638.0,2403.8 L640.0,2405.0 L642.0,2406.1 L644.0,2407.2 L646.0,2408.3 L648.0,2409.3 L650.0,2410.3 L652.0,2411.3 L654.0,2412.3 L656.0,2413.2 L658.0,2414.1 L660.0,2415.0 L662.0,2415.8 L664.0,2416.6 L666.0,2417.4 L668.0,2418.1 L670.0,2418.8 L672.0,2419.4 L674.0,2419.9 L676.0,2420.5 L678.0,2421.0 L680.0,2421.4 L682.0,2421.8 L684.0,2422.1 L686.0,2422.4 L688.0,2422.6 L690.0,2422.8 L692.0,2422.9 L694.0,2422.9 L696.0,2422.9 L698.0,2422.9 L700.0,2422.7 L702.0,2422.5 L704.0,2422.3 L706.0,2422.0 L708.0,2421.6 L710.0,2421.2 L712.0,2420.7 L714.0,2420.1 L716.0,2419.5 L718.0,2418.8 L720.0,2418.1 L722.0,2417.2 L724.0,2416.4 L726.0,2415.4 L728.0,2414.4 L730.0,2413.3 L732.0,2412.2 L734.0,2410.9 L736.0,2409.7 L738.0,2408.3 L740.0,2406.9 L742.0,2405.4 L744.0,2403.9 L746.0,2402.3 L748.0,2400.6 L750.0,2398.9 L752.0,2397.1 L754.0,2395.2 L756.0,2393.3 L758.0,2391.3 L760.0,2389.2 L762.0,2387.1 L764.0,2384.9 L766.0,2382.7 L768.0,2380.4 L770.0,2378.1 L772.0,2375.6 L774.0,2373.2 L776.0,2370.7 L778.0,2368.1 L780.0,2365.4 L782.0,2362.7 L784.0,2360.0 L786.0,2357.2 L788.0,2354.3 L790.0,2351.4 L792.0,2348.5 L794.0,2345.4 L796.0,2342.4 L798.0,2339.3 L800.0,2336.1 L802.0,2332.9 L804.0,2329.6 L806.0,2326.3 L808.0,2322.9 L810.0,2319.5 L812.0,2316.0 L814.0,2312.5 L816.0,2308.9 L818.0,2305.3 L820.0,2301.7 L822.0,2298.0 L824.0,2294.2 L826.0,2290.4 L828.0,2286.6 L830.0,2282.7 L832.0,2278.7 L834.0,2274.8 L836.0,2270.7 L838.0,2266.7 L840.0,2262.5 L842.0,2258.4 L844.0,2254.2 L846.0,2249.9 L848.0,2245.6 L850.0,2241.3 L852.0,2236.9 L854.0,2232.5 L856.0,2228.0 L858.0,2223.5 L860.0,2219.0 L862.0,2214.4 L864.0,2209.8 L866.0,2205.1 L868.0,2200.4 L870.0,2195.6 L872.0,2190.8 L874.0,2186.0 L876.0,2181.1 L878.0,2176.1 L880.0,2171.2 L882.0,2166.2 L884.0,2161.1 L886.0,2156.0 L888.0,2150.9 L890.0,2145.7 L892.0,2140.5 L894.0,2135.2 L896.0,2129.9 L898.0,2124.5 L900.0,2119.2 L902.0,2113.7 L904.0,2108.2 L906.0,2102.7 L908.0,2097.2 L910.0,2091.6 L912.0,2085.9 L914.0,2080.2 L916.0,2074.5 L918.0,2068.7 L920.0,2062.9 L922.0,2057.1 L924.0,2051.2 L926.0,2045.3 L928.0,2039.3 L930.0,2033.3 L932.0,2027.2 L934.0,2021.2 L936.0,2015.1 L938.0,2009.0 L940.0,2002.8 L942.0,1996.6 L944.0,1990.5 L946.0,1984.3 L948.0,1978.1 L950.0,1971.9 L952.0,1965.7 L954.0,1959.6 L956.0,1953.4 L958.0,1947.3 L960.0,1941.2 L962.0,1935.1 L964.0,1929.0 L966.0,1923.0 L968.0,1917.0 L970.0,1911.0 L972.0,1905.0 L974.0,1899.1 L976.0,1893.2 L978.0,1887.3 L980.0,1881.4 L982.0,1875.5 L984.0,1869.6 L986.0,1863.7 L988.0,1857.9 L990.0,1852.0 L992.0,1846.1 L994.0,1840.2 L996.0,1834.3 L998.0,1828.4 L1000.0,1822.4 L1002.0,1816.5 L1004.0,1810.5 L1006.0,1804.6 L1008.0,1798.6 L1010.0,1792.6 L1012.0,1786.5 L1014.0,1780.5 L1016.0,1774.5 L1018.0,1768.5 L1020.0,1762.5 L1022.0,1756.5 L1024.0,1750.5 L1026.0,1744.6 L1028.0,1738.6 L1030.0,1732.8 L1032.0,1727.0 L1034.0,1721.2 L1036.0,1715.5 L1038.0,1709.9 L1040.0,1704.3 L1042.0,1698.8 L1044.0,1693.4 L1046.0,1688.1 L1048.0,1682.8 L1050.0,1677.6 L1052.0,1672.5 L1054.0,1667.4 L1056.0,1662.4 L1058.0,1657.4 L1060.0,1652.5 L1062.0,1647.6 L1064.0,1642.8 L1066.0,1638.0 L1068.0,1633.2 L1070.0,1628.5 L1072.0,1623.8 L1074.0,1619.1 L1076.0,1614.4 L1078.0,1609.8 L1080.0,1605.2 L1082.0,1600.6 L1084.0,1596.0 L1086.0,1591.5 L1088.0,1587.0 L1090.0,1582.5 L1092.0,1578.0 L1094.0,1573.5 L1096.0,1569.1 L1098.0,1564.7 L1100.0,1560.4 L1102.0,1556.0 L1104.0,1551.7 L1106.0,1547.5 L1108.0,1543.3 L1110.0,1539.1 L1112.0,1535.0 L1114.0,1531.0 L1116.0,1527.0 L1118.0,1523.0 L1120.0,1519.1 L1122.0,1515.3 L1124.0,1511.6 L1126.0,1507.9 L1128.0,1504.3 L1130.0,1500.7 L1132.0,1497.3 L1134.0,1493.9 L1136.0,1490.5 L1138.0,1487.3 L1140.0,1484.1 L1142.0,1481.1 L1144.0,1478.1 L1146.0,1475.1 L1148.0,1472.3 L1150.0,1469.6 L1152.0,1466.9 L1154.0,1464.3 L1156.0,1461.8 L1158.0,1459.4 L1160.0,1457.0 L1162.0,1454.8 L1164.0,1452.6 L1166.0,1450.5 L1168.0,1448.5 L1170.0,1446.6 L1172.0,1444.8 L1174.0,1443.0 L1176.0,1441.3 L1178.0,1439.7 L1180.0,1438.2 L1182.0,1436.7 L1184.0,1435.3 L1186.0,1434.0 L1188.0,1432.7 L1190.0,1431.6 L1192.0,1430.4 L1194.0,1429.4 L1196.0,1428.4 L1198.0,1427.5 L1200.0,1426.7 L1202.0,1425.9 L1204.0,1425.2 L1206.0,1424.5 L1208.0,1424.0 L1210.0,1423.4 L1212.0,1423.0 L1214.0,1422.6 L1216.0,1422.2 L1218.0,1421.9 L1220.0,1421.7 L1222.0,1421.5 L1224.0,1421.4 L1226.0,1421.3 L1228.0,1421.3 L1230.0,1421.4 L1232.0,1421.5 L1234.0,1421.7 L1236.0,1421.9 L1238.0,1422.1 L1240.0,1422.5 L1242.0,1422.8 L1244.0,1423.3 L1246.0,1423.7 L1248.0,1424.3 L1250.0,1424.8 L1252.0,1425.5 L1254.0,1426.2 L1256.0,1426.9 L1258.0,1427.7 L1260.0,1428.5 L1262.0,1429.4 L1264.0,1430.3 L1266.0,1431.3 L1268.0,1432.3 L1270.0,1433.4 L1272.0,1434.5 L1274.0,1435.7 L1276.0,1437.0 L1278.0,1438.2 L1280.0,1439.6 L1282.0,1441.0 L1284.0,1442.4 L1286.0,1443.9 L1288.0,1445.4 L1290.0,1447.0 L1292.0,1448.6 L1294.0,1450.3 L1296.0,1452.1 L1298.0,1453.8 L1300.0,1455.7 L1302.0,1457.6 L1304.0,1459.5 L1306.0,1461.5 L1308.0,1463.6 L1310.0,1465.7 L1312.0,1467.9 L1314.0,1470.1 L1316.0,1472.3 L1318.0,1474.7 L1320.0,1477.0 L1322.0,1479.5 L1324.0,1482.0 L1326.0,1484.5 L1328.0,1487.1 L1330.0,1489.7 L1332.0,1492.4 L1334.0,1495.2 L1336.0,1498.0 L1338.0,1500.8 L1340.0,1503.7 L1342.0,1506.7 L1344.0,1509.7 L1346.0,1512.8 L1348.0,1515.9 L1350.0,1519.1 L1352.0,1522.3 L1354.0,1525.5 L1356.0,1528.9 L1358.0,1532.2 L1360.0,1535.6 L1362.0,1539.1 L1364.0,1542.6 L1366.0,1546.1 L1368.0,1549.7 L1370.0,1553.4 L1372.0,1557.0 L1374.0,1560.8 L1376.0,1564.5 L1378.0,1568.3 L1380.0,1572.2 L1382.0,1576.1 L1384.0,1580.0 L1386.0,1583.9 L1388.0,1587.9 L1390.0,1591.9 L1392.0,1596.0 L1394.0,1600.1 L1396.0,1604.2 L1398.0,1608.4 L1400.0,1612.5 L1402.0,1616.7 L1404.0,1621.0 L1406.0,1625.2 L1408.0,1629.5 L1410.0,1633.8 L1412.0,1638.1 L1414.0,1642.5 L1416.0,1646.8 L1418.0,1651.2 L1420.0,1655.6 L1422.0,1660.0 L1424.0,1664.4 L1426.0,1668.8 L1428.0,1673.3 L1430.0,1677.7 L1432.0,1682.2 L1434.0,1686.6 L1436.0,1691.1 L1438.0,1695.6 L1440.0,1700.1 L1442.0,1704.6 L1444.0,1709.1 L1446.0,1713.6 L1448.0,1718.1 L1450.0,1722.6 L1452.0,1727.1 L1454.0,1731.6 L1456.0,1736.1 L1458.0,1740.6 L1460.0,1745.1 L1462.0,1749.6 L1464.0,1754.1 L1466.0,1758.6 L1468.0,1763.0 L1470.0,1767.5 L1472.0,1772.0 L1474.0,1776.5 L1476.0,1780.9 L1478.0,1785.4 L1480.0,1789.9 L1482.0,1794.3 L1484.0,1798.8 L1486.0,1803.2 L1488.0,1807.6 L1490.0,1812.1 L1492.0,1816.5 L1494.0,1820.9 L1496.0,1825.3 L1498.0,1829.7 L1500.0,1834.1 L1502.0,1838.5 L1504.0,1842.8 L1506.0,1847.2 L1508.0,1851.6 L1510.0,1855.9 L1512.0,1860.3 L1514.0,1864.6 L1516.0,1869.0 L1518.0,1873.3 L1520.0,1877.6 L1522.0,1881.9 L1524.0,1886.3 L1526.0,1890.6 L1528.0,1894.9 L1530.0,1899.2 L1532.0,1903.5 L1534.0,1907.8 L1536.0,1912.1 L1538.0,1916.4 L1540.0,1920.7 L1542.0,1925.0 L1544.0,1929.3 L1546.0,1933.6 L1548.0,1937.9 L1550.0,1942.2 L1552.0,1946.5 L1554.0,1950.8 L1556.0,1955.1 L1558.0,1959.4 L1560.0,1963.7 L1562.0,1968.0 L1564.0,1972.3 L1566.0,1976.7 L1568.0,1981.0 L1570.0,1985.3 L1572.0,1989.6 L1574.0,1994.0 L1576.0,1998.3 L1578.0,2002.6 L1580.0,2006.9 L1582.0,2011.3 L1584.0,2015.6 L1586.0,2019.9 L1588.0,2024.2 L1590.0,2028.5 L1592.0,2032.8 L1594.0,2037.1 L1596.0,2041.4 L1598.0,2045.7 L1600.0,2049.9 L1602.0,2054.2 L1604.0,2058.4 L1606.0,2062.6 L1608.0,2066.8 L1610.0,2071.0 L1612.0,2075.1 L1614.0,2079.3 L1616.0,2083.4 L1618.0,2087.4 L1620.0,2091.5 L1622.0,2095.5 L1624.0,2099.5 L1626.0,2103.4 L1628.0,2107.3 L1630.0,2111.2 L1632.0,2115.0 L1634.0,2118.8 L1636.0,2122.5 L1638.0,2126.2 L1640.0,2129.8 L1642.0,2133.4 L1644.0,2136.9 L1646.0,2140.3 L1648.0,2143.7 L1650.0,2147.0 L1652.5,2152.8 L1654.5,2165.2 L1657.0,2171.2 L1659.0,2174.3 L1661.0,2177.4 L1663.0,2180.5 L1665.0,2183.7 L1667.0,2186.8 L1669.0,2190.0 L1671.0,2193.2 L1673.0,2196.4 L1675.0,2199.6 L1677.0,2202.8 L1679.0,2206.1 L1681.0,2209.3 L1683.0,2212.6 L1685.0,2215.8 L1687.0,2219.1 L1689.0,2222.4 L1691.0,2225.6 L1693.0,2228.9 L1695.0,2232.2 L1697.0,2235.5 L1699.0,2238.8 L1701.0,2242.1 L1703.0,2245.4 L1705.0,2248.7 L1707.0,2252.0 L1709.0,2255.3 L1711.0,2258.5 L1713.0,2261.8 L1715.0,2265.1 L1717.0,2268.4 L1719.0,2271.7 L1721.0,2275.0 L1723.0,2278.2 L1725.0,2281.5 L1727.0,2284.8 L1729.0,2288.0 L1731.0,2291.2 L1733.0,2294.5 L1735.0,2297.7 L1737.0,2300.9 L1739.0,2304.1 L1741.0,2307.3 L1743.0,2310.5 L1745.0,2313.7 L1747.0,2316.9 L1749.0,2320.0 L1751.0,2323.2 L1753.0,2326.3 L1755.0,2329.4 L1757.0,2332.5 L1759.0,2335.6 L1761.0,2338.7 L1763.0,2341.8 L1765.0,2344.8 L1767.0,2347.8 L1769.0,2350.8 L1771.0,2353.8 L1773.0,2356.8 L1775.0,2359.8 L1777.0,2362.7 L1779.0,2365.7 L1781.0,2368.6 L1783.0,2371.5 L1785.0,2374.4 L1787.0,2377.2 L1789.0,2380.1 L1791.0,2382.9 L1793.0,2385.7 L1795.0,2388.5 L1797.0,2391.2 L1799.0,2394.0 L1801.0,2396.7 L1803.0,2399.4 L1805.0,2402.1 L1807.0,2404.7 L1809.0,2407.4 L1811.0,2410.0 L1813.0,2412.6 L1815.0,2415.1 L1817.0,2417.7 L1819.0,2420.2 L1821.0,2422.7 L1823.0,2425.2 L1825.0,2427.7 L1827.0,2430.1 L1829.0,2432.6 L1831.0,2435.0 L1833.0,2437.3 L1835.0,2439.7 L1837.0,2442.0 L1839.0,2444.3 L1841.0,2446.6 L1843.0,2448.9 L1845.0,2451.1 L1847.0,2453.3 L1849.0,2455.5 L1851.0,2457.7 L1853.0,2459.9 L1855.0,2462.0 L1857.0,2464.1 L1859.0,2466.2 L1861.0,2468.3 L1863.0,2470.3 L1865.0,2472.3 L1867.0,2474.3 L1869.0,2476.3 L1871.0,2478.3 L1873.0,2480.2 L1875.0,2482.1 L1877.0,2484.0 L1879.0,2485.9 L1881.0,2487.7 L1883.0,2489.5 L1885.0,2491.4 L1887.0,2493.1 L1889.0,2494.9 L1891.0,2496.7 L1893.0,2498.4 L1895.0,2500.1 L1897.0,2501.8 L1899.0,2503.5 L1901.0,2505.1 L1903.0,2506.7 L1905.0,2508.4 L1907.0,2510.0 L1909.0,2511.5 L1911.0,2513.1 L1913.0,2514.6 L1915.0,2516.2 L1917.0,2517.7 L1919.0,2519.2 L1921.0,2520.7 L1923.0,2522.1 L1925.0,2523.6 L1927.0,2525.0 L1929.0,2526.4 L1931.0,2527.8 L1933.0,2529.2 L1935.0,2530.6 L1937.0,2531.9 L1939.0,2533.3 L1941.0,2534.6 L1943.0,2535.9 L1945.0,2537.2 L1947.0,2538.5 L1949.0,2539.8 L1951.0,2541.0 L1953.0,2542.3 L1955.0,2543.5 L1957.0,2544.8 L1959.0,2546.0 L1961.0,2547.2 L1963.0,2548.3 L1965.0,2549.5 L1967.0,2550.7 L1969.0,2551.8 L1971.0,2553.0 L1973.0,2554.1 L1975.0,2555.2 L1977.0,2556.3 L1979.0,2557.4 L1981.0,2558.5 L1983.0,2559.5 L1985.0,2560.6 L1987.0,2561.6 L1989.0,2562.6 L1991.0,2563.7 L1993.0,2564.7 L1995.0,2565.7 L1997.0,2566.7 L1999.0,2567.6 L2001.0,2568.6 L2003.0,2569.6 L2005.0,2570.5 L2007.0,2571.4 L2009.0,2572.4 L2011.0,2573.3 L2013.0,2574.2 L2015.0,2575.1 L2017.0,2576.0 L2019.0,2576.8 L2021.0,2577.7 L2023.0,2578.6 L2025.0,2579.4 L2027.0,2580.2 L2029.0,2581.1 L2031.0,2581.9 L2033.0,2582.7 L2035.0,2583.5 L2037.0,2584.3 L2039.0,2585.1 L2041.0,2585.8 L2043.0,2586.6 L2045.0,2587.4 L2047.0,2588.1 L2049.0,2588.8 L2051.0,2589.6 L2053.0,2590.3 L2055.0,2591.0 L2057.0,2591.7 L2059.0,2592.4 L2061.0,2593.1 L2063.0,2593.8 L2065.0,2594.4 L2067.0,2595.1 L2069.0,2595.7 L2071.0,2596.4 L2073.0,2597.0 L2075.0,2597.7 L2077.0,2598.3 L2079.0,2598.9 L2081.0,2599.5 L2083.0,2600.1 L2085.0,2600.7 L2087.0,2601.3 L2089.0,2601.9 L2091.0,2602.4 L2093.0,2603.0 L2095.0,2603.6 L2097.0,2604.1 L2099.0,2604.7 L2101.0,2605.2 L2103.0,2605.7 L2105.0,2606.3 L2107.0,2606.8 L2109.0,2607.3 L2111.0,2607.8 L2113.0,2608.3 L2115.0,2608.8 L2117.0,2609.3 L2119.0,2609.7 L2121.0,2610.2 L2123.0,2610.7 L2125.0,2611.1 L2127.0,2611.6 L2129.0,2612.0 L2131.0,2612.5 L2133.0,2612.9 L2135.0,2613.3 L2137.0,2613.7 L2139.0,2614.2 L2141.0,2614.6 L2143.0,2615.0 L2145.0,2615.4 L2147.0,2615.8 L2149.0,2616.2 L2151.0,2616.5 L2153.0,2616.9 L2155.0,2617.3 L2157.0,2617.7 L2159.0,2618.0 L2161.0,2618.4 L2163.0,2618.7 L2165.0,2619.1 L2167.0,2619.4 L2169.0,2619.7 L2171.0,2620.1 L2173.0,2620.4 L2175.0,2620.7 L2177.0,2621.0 L2179.0,2621.3 L2181.0,2621.6 L2183.0,2621.9 L2185.0,2622.2 L2187.0,2622.5 L2189.0,2622.8 L2191.0,2623.1 L2193.0,2623.3 L2195.0,2623.6 L2197.0,2623.9 L2199.0,2624.1 L2201.0,2624.4 L2203.0,2624.6 L2205.0,2624.9 L2207.0,2625.1 L2209.0,2625.4 L2211.0,2625.6 L2213.0,2625.8 L2215.0,2626.0 L2217.0,2626.2 L2219.0,2626.5 L2221.0,2626.7 L2223.0,2626.9 L2225.0,2627.1 L2227.0,2627.3 L2229.0,2627.5 L2231.0,2627.6 L2233.0,2627.8 L2235.0,2628.0 L2237.0,2628.2 L2239.0,2628.3 L2241.0,2628.5 L2243.0,2628.7 L2245.0,2628.8 L2247.0,2629.0 L2249.0,2629.1 L2251.0,2629.3 L2253.0,2629.4 L2255.0,2629.5 L2257.0,2629.7 L2259.0,2629.8 L2261.0,2629.9 L2263.0,2630.0 L2265.0,2630.2 L2267.0,2630.3 L2269.0,2630.4 L2271.0,2630.5 L2273.0,2630.6 L2275.0,2630.7 L2277.0,2630.8 L2279.0,2630.9 L2281.0,2630.9 L2283.0,2631.0 L2285.0,2631.1 L2287.0,2631.2 L2289.0,2631.2 L2291.0,2631.3 L2293.0,2631.3 L2295.0,2631.4 L2297.0,2631.4 L2299.0,2631.5 L2301.0,2631.5 L2303.0,2631.6" stroke="#80CF48" stroke-width="9"/>
</g>
<line x1="1977" y1="1769.0" x2="2110" y2="1769.0" stroke="#4070CC" stroke-width="9.5" stroke-linecap="round"/>
<text x="2136.0" y="1798.5" font-family="'Liberation Serif','DejaVu Serif',serif" font-size="79" font-weight="bold" fill="#000" text-anchor="start" stroke="#fff" stroke-width="1.5">1</text>
<line x1="1977" y1="1885.4" x2="2110" y2="1885.4" stroke="#F07D2A" stroke-width="9.5" stroke-linecap="round"/>
<text x="2136.0" y="1914.9" font-family="'Liberation Serif','DejaVu Serif',serif" font-size="79" font-weight="bold" fill="#000" text-anchor="start" stroke="#fff" stroke-width="1.5">2</text>
<line x1="1977" y1="2001.8" x2="2110" y2="2001.8" stroke="#F2B807" stroke-width="9.5" stroke-linecap="round"/>
<text x="2136.0" y="2031.3" font-family="'Liberation Serif','DejaVu Serif',serif" font-size="79" font-weight="bold" fill="#000" text-anchor="start" stroke="#fff" stroke-width="1.5">3</text>
<line x1="1977" y1="2118.2" x2="2110" y2="2118.2" stroke="#80CF48" stroke-width="9.5" stroke-linecap="round"/>
<text x="2136.0" y="2147.7" font-family="'Liberation Serif','DejaVu Serif',serif" font-size="79" font-weight="bold" fill="#000" text-anchor="start" stroke="#fff" stroke-width="1.5">4</text>
</g>
</g>
</svg>
</body>
</html>
